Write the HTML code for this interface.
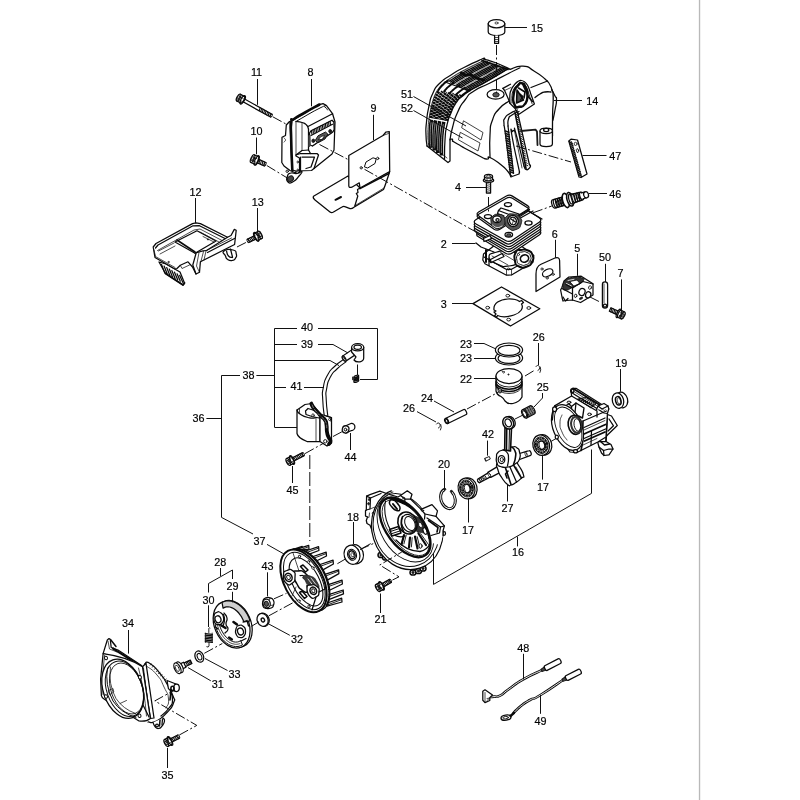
<!DOCTYPE html>
<html><head><meta charset="utf-8">
<style>
html,body{margin:0;padding:0;background:#fff;}
body{width:800px;height:800px;overflow:hidden;}
svg{display:block;}
text{font-family:"Liberation Sans",sans-serif;font-size:11.4px;fill:#000;stroke:#000;stroke-width:0.2;text-anchor:middle;}
.l{stroke:#111;stroke-width:1;fill:none;}
.d{stroke:#111;stroke-width:1;fill:none;stroke-dasharray:10 2.5 2 2.5;}
.p{stroke:#0a0a0a;stroke-width:1.25;fill:#fff;stroke-linejoin:round;stroke-linecap:round;}
.n{stroke:#0a0a0a;stroke-width:1.25;fill:none;stroke-linejoin:round;stroke-linecap:round;}
.t{stroke:#111;stroke-width:0.75;fill:none;stroke-linejoin:round;stroke-linecap:round;}
.w{stroke:#fff;stroke-width:0.8;fill:none;stroke-linecap:round;}
.k{stroke:#1a1a1a;stroke-width:1;fill:#1a1a1a;stroke-linejoin:round;}
.g{stroke:#1a1a1a;stroke-width:1;fill:#8a8a8a;stroke-linejoin:round;}
.h{stroke:#1a1a1a;stroke-width:1.8;fill:none;stroke-linejoin:round;stroke-linecap:round;}
</style></head><body>
<svg width="800" height="800" viewBox="0 0 800 800">
<rect width="800" height="800" fill="#fff"/>
<rect x="698.85" y="0" width="1.35" height="800" fill="#b9b9b9"/>
<!-- parts/p_case.svg -->
<g id="case">
<path class="p" d="M388 494 L379.8 491.2 L370 494.6 L366.6 496.1 L366.3 510 L365.5 510.8 L365.5 516 L367.5 517 L366.3 520.5 L367 523.5 L370 525.2 L375 538 L390 530Z" />
<path class="n" d="M366.6 496.1 L370.5 498 L381 493.5" />
<path class="n" d="M370.5 498 L370 509 L366.3 510" />
<path class="t" d="M370 509 L380 505" />
<ellipse class="k" cx="369.3" cy="499.6" rx="0.9" ry="1.1" />
<ellipse class="k" cx="368.6" cy="503.7" rx="0.9" ry="1.1" />
<ellipse class="n" cx="373.4" cy="513.4" rx="1.1" ry="1.4" style="stroke-width:.9"/>
<path class="t" d="M365.5 516 L369 517.5 L369.5 513" />
<ellipse class="p" cx="381" cy="555" rx="3" ry="2.6" style="stroke-width:1.5"/>
<ellipse class="k" cx="381" cy="555" rx="1.1" ry="1" />
<ellipse class="p" cx="385.5" cy="557.5" rx="3" ry="2.6" style="stroke-width:1.5"/>
<ellipse class="k" cx="385.5" cy="557.5" rx="1.1" ry="1" />
<ellipse class="p" cx="413" cy="572.5" rx="3" ry="2.6" style="stroke-width:1.5"/>
<ellipse class="k" cx="413" cy="572.5" rx="1.1" ry="1" />
<ellipse class="p" cx="418.5" cy="571" rx="3" ry="2.6" style="stroke-width:1.5"/>
<ellipse class="k" cx="418.5" cy="571" rx="1.1" ry="1" />
<ellipse class="p" cx="423" cy="568.5" rx="3" ry="2.6" style="stroke-width:1.5"/>
<ellipse class="k" cx="423" cy="568.5" rx="1.1" ry="1" />
<ellipse class="p" cx="434" cy="546.5" rx="1.6" ry="2" />
<ellipse class="p" cx="440.5" cy="536.5" rx="2" ry="2.3" />
<ellipse class="p" cx="444" cy="533.5" rx="1.5" ry="1.8" />
<clipPath id="cc0"><path d="M387 487 L447 531 L470 610 L340 610 L340 470Z"/></clipPath>
<g clip-path="url(#cc0)">
<ellipse class="p" cx="407.2" cy="528.8" rx="35.1" ry="41.3" transform="rotate(-17.6 407.2 528.8)" />
<ellipse class="n" cx="406.2" cy="528.3" rx="32.3" ry="38.8" transform="rotate(-19 406.2 528.3)" style="stroke-width:1"/>
</g>
<ellipse class="n" cx="405.4" cy="527.8" rx="24.5" ry="37" transform="rotate(-31 405.4 527.8)" style="stroke-width:.9"/>
<path class="p" d="M398 497 L400.5 495.5 L407.3 490.8 L412 494.2 L410.5 499 L421 509.4 L432 504.6 L437.5 510.8 L436 516.3 L444.4 525.9 L443 531 L443 535.5 L440 545 L420 540 L400 510 L386.6 493.6Z" style="stroke:none"/>
<path class="n" d="M386.6 493.6 L398 497 L400.5 495.5 L407.3 490.8 L412 494.2 L410.5 499 L421 509.4 L432 504.6 L437.5 510.8 L436 516.3 L444.4 525.9 L443 531 L443 535.5" />
<path class="n" d="M400.5 495.5 L405 499 L410.5 499" />
<path class="n" d="M405 499 L404.5 503" />
<ellipse class="t" cx="403.5" cy="498" rx="1.1" ry="0.8" />
<path class="n" d="M421 509.4 L425 514 L436 516.3" />
<path class="n" d="M425 514 L424.5 519" />
<ellipse class="t" cx="422.5" cy="510.5" rx="1.2" ry="0.9" />
<path class="n" d="M427 518 L440.5 527 L444.4 525.9" />
<path class="n" d="M440.5 527 L439.5 533 L431 535.5" />
<path class="n" d="M428.5 520.5 L438 527.5 L437 532" style="stroke-width:1.6"/>
<clipPath id="cc1"><ellipse cx="405" cy="527.4" rx="18.6" ry="34.5" transform="rotate(-36.7 405 527.4)"/></clipPath>
<g clip-path="url(#cc1)">
<ellipse class="p" cx="405" cy="527.4" rx="18.6" ry="34.5" transform="rotate(-36.7 405 527.4)" style="stroke:none;fill:#fff"/>
<path class="n" d="M392 498.5 Q410 503 421 516 Q428 525 430 538" style="stroke-width:3.4;stroke-dasharray:1.3 0.9"/>
<path class="k" d="M413 515 L422 519 L426 527 L424 533 L417 532 L414 525Z" style="fill:#333;stroke-width:.6"/>
<ellipse class="p" cx="420.5" cy="525" rx="1.8" ry="2.6" transform="rotate(-20 420.5 525)" style="stroke-width:.8"/>
<ellipse class="p" cx="425" cy="531" rx="1.8" ry="3.4" transform="rotate(-20 425 531)" style="stroke-width:1.2"/>
<line class="n" x1="404" y1="535" x2="401.5" y2="544.5" style="stroke-width:2.2"/>
<line class="n" x1="406.2" y1="535.2" x2="403.9" y2="543.9" style="stroke-width:.9"/>
<line class="n" x1="410" y1="537.5" x2="409" y2="547.5" style="stroke-width:2.2"/>
<line class="n" x1="412.2" y1="537.7" x2="411.4" y2="546.9" style="stroke-width:.9"/>
<line class="n" x1="415" y1="536.5" x2="417.5" y2="548.5" style="stroke-width:2.2"/>
<line class="n" x1="417.2" y1="536.7" x2="419.9" y2="547.9" style="stroke-width:.9"/>
<line class="n" x1="418.5" y1="533.5" x2="426" y2="545" style="stroke-width:2.2"/>
<line class="n" x1="420.7" y1="533.7" x2="428.4" y2="544.4" style="stroke-width:.9"/>
<path class="n" d="M396 540 Q406 551 420 551.5 Q427 550 430 544" style="stroke-width:1.3"/>
<path class="n" d="M394 535 Q400 538 405 536" style="stroke-width:1.3"/>
<ellipse class="p" cx="420.5" cy="546" rx="1.6" ry="2.2" style="stroke-width:1"/>
<path class="p" d="M389.5 529.5 L398.5 526.5 L401 533 L392 536Z" style="stroke-width:1.5"/>
<line class="n" x1="390.5" y1="531.5" x2="399.5" y2="528.5" style="stroke-width:1"/>
<line class="n" x1="391.3" y1="533.8" x2="400.3" y2="530.8" style="stroke-width:1"/>
<path class="n" d="M385.5 501 Q382.5 516 391 531" style="stroke-width:1.1"/>
<path class="p" d="M389.5 502 C390 499.8 390.3 499.5 393 500 C395.7 500.5 395.2 500.7 397.5 503.5 C399.8 506.3 400.3 506.2 400 508.5 C399.7 510.8 399.3 511.2 396.5 510.5 C393.7 509.8 393.8 509.3 391.5 506.5 C389.2 503.7 389 504.2 389.5 502Z" style="stroke-width:1.5"/>
<path class="n" d="M393 504 L397 509" style="stroke-width:2"/>
</g>
<ellipse class="n" cx="405" cy="527.4" rx="18.6" ry="34.5" transform="rotate(-36.7 405 527.4)" style="stroke-width:2.3"/>
<ellipse class="n" cx="405.8" cy="527.6" rx="16.8" ry="32.6" transform="rotate(-36.7 405.8 527.6)" style="stroke-width:.8"/>
<ellipse class="p" cx="407.5" cy="523" rx="9.3" ry="11.3" transform="rotate(-25 407.5 523)" style="stroke-width:1.6"/>
<ellipse class="p" cx="408.8" cy="523.3" rx="6.9" ry="9.2" transform="rotate(-25 408.8 523.3)" style="stroke-width:1.2"/>
<ellipse class="n" cx="410" cy="523.5" rx="4.8" ry="7.4" transform="rotate(-25 410 523.5)" style="stroke-width:1"/>
<path class="n" d="M402.5 516.5 Q399.5 523.5 403.5 531.5" style="stroke-width:1.6"/>
<path class="p" d="M597.5 441.5 L599 447 L601.5 453 L604 455.5 L609 454.8 L613 449 L611 444.5 L606 441.5Z" />
<path class="n" d="M599 447 L603.5 450.5 L609 449 L613 449" />
<path class="n" d="M603.5 450.5 L604 455.5" />
<path class="n" d="M600 441 L604.5 445 L609.5 444" style="stroke-width:1.5"/>
<path class="p" d="M607.5 414.5 L611.5 416 L617.3 425.5 L608.5 434 L606 436.5Z" />
<path class="n" d="M609 419 L613.5 425.8 L608 431" />
<path class="n" d="M606.8 418 L606 441" style="stroke-width:1.8"/>
<path class="p" d="M555 405.6 L571.6 396 L571 390.5 L573 388.3 L576 388.3 L608.8 409 L607.4 413.5 L606 437 L597.8 442 L577 452.5 L570 452 L556 432Z" />
<path class="n" d="M571 390.5 L573 393.5 L604 413 L607.4 413.5" />
<path class="n" d="M573 388.5 L605.5 408.5" style="stroke-width:2"/>
<path class="t" d="M574 391.5 L604.5 410.5" />
<path class="p" d="M596.5 409.5 L598 406 L604 403.5 L608 406 L608.8 409" />
<path class="n" d="M598 406 L602 409 L608 406" />
<ellipse class="n" cx="572.3" cy="390.8" rx="1.6" ry="2.2" />
<path class="n" d="M571.6 396 L585 404 L597 411 L597 417" />
<path class="n" d="M555 405.6 L559 408.5 L569 404 L571.5 406.5" />
<ellipse class="n" cx="569" cy="402.3" rx="1.9" ry="1.2" style="stroke-width:1"/>
<ellipse class="n" cx="589.5" cy="414.3" rx="1.9" ry="1.2" style="stroke-width:1"/>
<path class="n" d="M578 399 L586 397.5 L596 404 L591 407.5Z" style="stroke-width:1"/>
<line class="n" x1="579.5" y1="399.6" x2="582" y2="398.2" style="stroke-width:1.1"/>
<line class="n" x1="581.4" y1="400.7" x2="583.9" y2="399.2" style="stroke-width:1.1"/>
<line class="n" x1="583.3" y1="401.7" x2="585.8" y2="400.3" style="stroke-width:1.1"/>
<line class="n" x1="585.2" y1="402.8" x2="587.7" y2="401.3" style="stroke-width:1.1"/>
<line class="n" x1="587.1" y1="403.8" x2="589.6" y2="402.4" style="stroke-width:1.1"/>
<line class="n" x1="589" y1="404.9" x2="591.5" y2="403.4" style="stroke-width:1.1"/>
<line class="n" x1="590.9" y1="405.9" x2="593.4" y2="404.5" style="stroke-width:1.1"/>
<path class="p" d="M571.5 406.5 L576 403 L584 408 L582.5 418 L578.5 416 L571.5 412Z" style="stroke-width:1.4"/>
<path class="n" d="M576 403 L575 412.5" />
<path class="n" d="M583 421 L597 415 L606.5 411" />
<path class="n" d="M583 421 L582.5 443 L581 450.5" style="stroke-width:1.6"/>
<path class="n" d="M584 427.5 L605 418" />
<path class="t" d="M584 430 L605 420.5" />
<path class="n" d="M584 434 L605.5 424.5" style="stroke-width:1.7"/>
<path class="n" d="M584 438.5 L605.5 429" />
<path class="n" d="M584.5 441 L605 432" style="stroke-width:1.8"/>
<path class="n" d="M591.5 431 L591 445" />
<path class="t" d="M582 445.5 L597 438.5" />
<ellipse class="p" cx="567.5" cy="427.5" rx="14.3" ry="24" transform="rotate(-22 567.5 427.5)" />
<ellipse class="n" cx="568.2" cy="427.2" rx="11.6" ry="21.5" transform="rotate(-24 568.2 427.2)" style="stroke-width:.9"/>
<path class="n" d="M555 405.6 L553.5 409 L552.4 420" />
<ellipse class="p" cx="554.6" cy="409.3" rx="2" ry="2.4" />
<ellipse class="p" cx="556.8" cy="437" rx="1.6" ry="2" />
<ellipse class="p" cx="575.5" cy="451.2" rx="2" ry="1.7" />
<ellipse class="p" cx="575" cy="424.8" rx="6.8" ry="9.6" transform="rotate(-10 575 424.8)" style="stroke-width:1.6"/>
<ellipse class="n" cx="576.2" cy="424.8" rx="5" ry="8" transform="rotate(-10 576.2 424.8)" style="stroke-width:2;stroke:#333"/>
<ellipse class="n" cx="577.3" cy="424.9" rx="3.2" ry="6.3" transform="rotate(-10 577.3 424.9)" style="stroke-width:.9"/>
<path class="t" d="M562 415 C561.3 417.7 560 417.3 560 423 C560 428.7 559.7 426.3 562 432 C564.3 437.7 565.3 437.3 567 440" />
<ellipse class="p" cx="621.6" cy="400" rx="6" ry="8" transform="rotate(-15 621.6 400)" />
<ellipse class="p" cx="618" cy="400.6" rx="5.6" ry="7.8" transform="rotate(-15 618 400.6)" />
<ellipse class="p" cx="618.3" cy="400.8" rx="2.7" ry="4.3" transform="rotate(-15 618.3 400.8)" style="stroke-width:1.4"/>
<ellipse class="t" cx="618.9" cy="400.8" rx="1.7" ry="3.2" transform="rotate(-15 618.9 400.8)" />
<g transform="translate(379.5 587) rotate(-29)">
<path class="p" d="M2 -1.8 L12.5 -1.8 L12.5 1.8 L2 1.8 Z" />
<ellipse class="p" cx="12.5" cy="0" rx="0.8" ry="1.8" style="stroke-width:.9"/>
<line class="n" x1="3.2" y1="-1.8" x2="3.9" y2="1.8" style="stroke-width:1"/>
<line class="n" x1="4.9" y1="-1.8" x2="5.6" y2="1.8" style="stroke-width:1"/>
<line class="n" x1="6.6" y1="-1.8" x2="7.3" y2="1.8" style="stroke-width:1"/>
<line class="n" x1="8.3" y1="-1.8" x2="9" y2="1.8" style="stroke-width:1"/>
<line class="n" x1="10" y1="-1.8" x2="10.7" y2="1.8" style="stroke-width:1"/>
<line class="n" x1="11.7" y1="-1.8" x2="12.4" y2="1.8" style="stroke-width:1"/>
<ellipse class="p" cx="2.3" cy="0" rx="1.7" ry="4.8" />
<path class="p" d="M-2 -3.9 L2 -3.9 L2 3.9 L-2 3.9 Z" style="stroke:none"/>
<line class="n" x1="-2" y1="-3.9" x2="2" y2="-3.9" />
<line class="n" x1="-2" y1="3.9" x2="2" y2="3.9" />
<ellipse class="n" cx="2" cy="0" rx="1.5" ry="3.9" />
<ellipse class="p" cx="-2" cy="0" rx="1.6" ry="3.9" />
<ellipse class="t" cx="-2.2" cy="0" rx="0.9" ry="2.1" />
<line class="t" x1="-2" y1="-1.6" x2="2" y2="-1.6" />
<line class="t" x1="-2" y1="1.8" x2="2" y2="1.8" />
</g>
</g>
<!-- parts/p_coil.svg -->
<g id="coil">
<path class="n" d="M326.3 418 C325.7 412 324.9 410 324.5 400 C324.1 390 323.5 396 325 388 C326.5 380 325.3 382.8 329 376 C332.7 369.2 330.7 372.7 336 367.5 C341.3 362.3 342 362.8 345 360.5" style="stroke-width:4.6;stroke-linecap:butt"/>
<path class="w" d="M326.3 418 C325.7 412 324.9 410 324.5 400 C324.1 390 323.5 396 325 388 C326.5 380 325.3 382.8 329 376 C332.7 369.2 330.7 372.7 336 367.5 C341.3 362.3 342 362.8 345 360.5" style="stroke-width:2.4;stroke-linecap:butt"/>
<path class="p" d="M297 410 L297 433.5 Q298 438 307 441.5 L320 441.5 L320 414 L312 403.5 L305 404.5 Z" />
<path class="n" d="M297 410 C298 411.3 296.3 411.5 300 414 C303.7 416.5 302.7 416.3 308 417.5 C313.3 418.7 312 418.7 316 417.5 C320 416.3 318.7 415.2 320 414" />
<path class="t" d="M299.5 408.5 L299.5 412.5" />
<path class="t" d="M316 418 L316 441" />
<path class="p" d="M320 414 L331.5 417.5 L331.5 443 L327 446 L320 441.5Z" />
<path class="n" d="M326 416 L331 417.5 L331 421" />
<ellipse class="p" cx="329.7" cy="419.5" rx="1.1" ry="1.1" style="stroke-width:.8"/>
<path class="p" d="M305.5 411 L308 408.5 L316 411 L321 416.5 L319 418 L312 416.5 L306 414.5Z" />
<ellipse class="p" cx="313" cy="415.3" rx="1.2" ry="1.5" style="stroke-width:.8"/>
<path class="n" d="M311.3 403.6 C312 405.1 311.4 405.2 313.5 408 C315.6 410.8 315 409.3 317.5 412 C320 414.7 318.5 413.3 321 416 C323.5 418.7 323.2 417 325 420 C326.8 423 325.8 421 326.5 425 C327.2 429 326.3 428 327 432 C327.7 436 327.3 434 328.5 437 C329.7 440 330.3 438.7 330.5 441 C330.7 443.3 329.5 443 329 444" style="stroke-width:3.8"/>
<path class="w" d="M312.2 405 C313.1 406.7 312.1 406.2 315 410 C317.9 413.8 317.5 412.7 321 416.5 C324.5 420.3 323.6 417.7 325.5 421.5 C327.4 425.3 326.4 425.8 326.8 428" style="stroke-width:.45;stroke-dasharray:3 2"/>
<ellipse class="p" cx="325.3" cy="441.3" rx="1.7" ry="1.7" style="stroke-width:.9"/>
<g transform="translate(349.5 355) rotate(-34)">
<path class="p" d="M-6.5 -3 L6 -3 L6 3 L-6.5 3Z" />
<ellipse class="p" cx="-6.5" cy="0" rx="1.3" ry="3" />
<ellipse class="t" cx="-6.8" cy="0" rx="0.9" ry="1.9" />
</g>
<path class="p" d="M351.6 347.5 L351.6 352 L356 357 L354 360 Q356 362.5 360 361.8 Q363.7 361 363.7 358 L363.7 347.5Z" />
<ellipse class="p" cx="357.7" cy="347.3" rx="6.1" ry="3.6" />
<ellipse class="p" cx="357.7" cy="347.2" rx="3.7" ry="2.1" />
<ellipse class="n" cx="356.3" cy="376.6" rx="2.6" ry="1.1" transform="rotate(-20 356.3 376.6)" style="stroke-width:1.1"/>
<ellipse class="n" cx="356.3" cy="378.1" rx="2.6" ry="1.1" transform="rotate(-20 356.3 378.1)" style="stroke-width:1.1"/>
<ellipse class="n" cx="356.3" cy="379.6" rx="2.6" ry="1.1" transform="rotate(-20 356.3 379.6)" style="stroke-width:1.1"/>
<ellipse class="n" cx="356.3" cy="381.1" rx="2.6" ry="1.1" transform="rotate(-20 356.3 381.1)" style="stroke-width:1.1"/>
<line class="n" x1="352.8" y1="377" x2="352.8" y2="379.5" />
<path class="p" d="M345.8 425.8 L351.5 423.3 A3.4 3.6 0 0 1 351.5 430.5 L345.8 433Z" />
<ellipse class="p" cx="345.6" cy="429.4" rx="3.3" ry="3.6" transform="rotate(15 345.6 429.4)" />
<ellipse class="p" cx="345.5" cy="429.6" rx="1.3" ry="1.5" transform="rotate(15 345.5 429.6)" style="stroke-width:.9"/>
<g transform="translate(290 461) rotate(-27)">
<path class="p" d="M2 -1.7 L15 -1.7 L15 1.7 L2 1.7 Z" />
<ellipse class="p" cx="15" cy="0" rx="0.8" ry="1.7" style="stroke-width:.9"/>
<line class="n" x1="3.2" y1="-1.7" x2="3.9" y2="1.7" style="stroke-width:1"/>
<line class="n" x1="4.9" y1="-1.7" x2="5.6" y2="1.7" style="stroke-width:1"/>
<line class="n" x1="6.6" y1="-1.7" x2="7.3" y2="1.7" style="stroke-width:1"/>
<line class="n" x1="8.3" y1="-1.7" x2="9" y2="1.7" style="stroke-width:1"/>
<line class="n" x1="10" y1="-1.7" x2="10.7" y2="1.7" style="stroke-width:1"/>
<line class="n" x1="11.7" y1="-1.7" x2="12.4" y2="1.7" style="stroke-width:1"/>
<line class="n" x1="13.4" y1="-1.7" x2="14.1" y2="1.7" style="stroke-width:1"/>
<ellipse class="p" cx="2.3" cy="0" rx="1.7" ry="4.7" />
<path class="p" d="M-2 -3.8 L2 -3.8 L2 3.8 L-2 3.8 Z" style="stroke:none"/>
<line class="n" x1="-2" y1="-3.8" x2="2" y2="-3.8" />
<line class="n" x1="-2" y1="3.8" x2="2" y2="3.8" />
<ellipse class="n" cx="2" cy="0" rx="1.5" ry="3.8" />
<ellipse class="p" cx="-2" cy="0" rx="1.6" ry="3.8" />
<ellipse class="t" cx="-2.2" cy="0" rx="0.9" ry="2.1" />
<line class="t" x1="-2" y1="-1.5" x2="2" y2="-1.5" />
<line class="t" x1="-2" y1="1.7" x2="2" y2="1.7" />
</g>
</g>
<!-- parts/p_cover.svg -->
<g id="cover">
<path class="p" d="M427 146 L426 135 L426.5 122 L429 106 L433 93 L440 83 L451 75 L464 67.5 L481 59.5 L484 59.2 L495 62.5 L510 69.2 L523 66.2 L534 71 L545 79 L550 85 L552 90 L555 96 L556.5 100 L554 115 L552.5 130 L552.5 144 L546 147 L540 145 L537.5 145 L537 131 L521 132 L530 166 L526 170 L519 174 L511 177 L507.5 171 L500 164 L490 157.5 L485 158.8 L470 151 L457.5 144 L452.5 141 L452.5 139 L450 139 L450 161 L448 162.5Z" style="stroke:none"/>
<path class="n" d="M430.8 147.9 L430.7 146.7 L430.6 145.2 L430.5 143.5 L430.4 141.7 L430.3 139.9 L430.2 138.1 L430.2 136.4 L430.2 134.8 L430.2 133.2 L430.3 131.6 L430.4 130 L430.5 128.3 L430.6 126.7 L430.7 125 L430.9 123.3 L431.2 121.5 L431.4 119.7" style="stroke-width:3.5;stroke-linecap:butt"/>
<path class="n" d="M434.3 150.4 L434.3 149 L434.2 147.3 L434.1 145.4 L434 143.3 L434 141.3 L434 139.3 L434 137.4 L434 135.7 L434.1 134 L434.2 132.3 L434.3 130.6 L434.4 129 L434.6 127.3 L434.8 125.6 L435 123.9 L435.3 122.2 L435.6 120.4" style="stroke-width:3.5;stroke-linecap:butt"/>
<path class="n" d="M437.8 152.9 L437.8 151.3 L437.8 149.3 L437.7 147.2 L437.7 145 L437.7 142.7 L437.7 140.5 L437.8 138.5 L437.9 136.6 L438 134.8 L438.1 133.1 L438.2 131.3 L438.4 129.6 L438.6 127.9 L438.8 126.2 L439.1 124.5 L439.4 122.8 L439.7 121.1" style="stroke-width:3.5;stroke-linecap:butt"/>
<path class="n" d="M441.4 155.4 L441.4 153.6 L441.4 151.4 L441.4 149.1 L441.4 146.6 L441.4 144.1 L441.5 141.7 L441.6 139.5 L441.7 137.5 L441.8 135.6 L442 133.8 L442.2 132 L442.4 130.2 L442.6 128.5 L442.9 126.8 L443.2 125.1 L443.5 123.4 L443.9 121.8" style="stroke-width:3.5;stroke-linecap:butt"/>
<path class="w" d="M430.7 146 L430.5 144.4 L430.4 142.7 L430.3 140.9 L430.2 139.1 L430.2 137.4 L430.2 135.7 L430.2 134.1 L430.2 132.5 L430.3 130.9 L430.4 129.3 L430.5 127.7 L430.6 126.1 L430.8 124.4 L431 122.7" style="stroke-width:0.5"/>
<path class="w" d="M434.2 148.2 L434.1 146.4 L434.1 144.4 L434 142.4 L434 140.4 L434 138.5 L434 136.7 L434 135 L434.1 133.3 L434.2 131.6 L434.3 130 L434.5 128.3 L434.7 126.6 L434.9 125 L435.1 123.3" style="stroke-width:0.5"/>
<path class="w" d="M437.8 150.4 L437.7 148.4 L437.7 146.2 L437.7 143.9 L437.7 141.7 L437.7 139.6 L437.8 137.7 L437.9 135.9 L438 134.1 L438.1 132.3 L438.3 130.6 L438.5 128.9 L438.7 127.2 L438.9 125.5 L439.2 123.9" style="stroke-width:0.5"/>
<path class="w" d="M441.4 152.6 L441.4 150.3 L441.4 147.9 L441.4 145.4 L441.4 143 L441.5 140.7 L441.6 138.6 L441.7 136.7 L441.9 134.9 L442.1 133 L442.3 131.3 L442.5 129.5 L442.7 127.8 L443 126.1 L443.3 124.5" style="stroke-width:0.5"/>
<path class="n" d="M430.6 118 L430.9 116.1 L431.3 114.1 L431.6 112.2 L432 110.4 L432.4 108.6 L432.8 106.9 L433.2 105.2 L433.7 103.6 L434.1 102 L434.6 100.5 L435.1 99 L435.6 97.6 L436.2 96.2 L436.8 94.8 L437.5 93.5 L438.2 92.3 L439 91.1" style="stroke-width:3.1;stroke-linecap:butt;stroke-dasharray:2.3 0.55;stroke-dashoffset:0"/>
<path class="n" d="M433.3 118.5 L433.7 116.6 L434 114.8 L434.4 113 L434.8 111.2 L435.3 109.4 L435.7 107.8 L436.1 106.2 L436.6 104.6 L437 103.1 L437.5 101.6 L438.1 100.2 L438.6 98.8 L439.2 97.4 L439.8 96.1 L440.5 94.9 L441.2 93.7 L441.9 92.6 L442.7 91.5" style="stroke-width:3.1;stroke-linecap:butt;stroke-dasharray:2.3 0.55;stroke-dashoffset:1.2"/>
<path class="n" d="M436.1 119 L436.4 117.2 L436.8 115.4 L437.2 113.7 L437.7 112 L438.1 110.3 L438.5 108.7 L439 107.2 L439.5 105.6 L440 104.2 L440.5 102.7 L441 101.3 L441.6 100 L442.2 98.7 L442.8 97.4 L443.5 96.2 L444.2 95.1 L444.9 94.1 L445.6 93 L446.4 92" style="stroke-width:3.1;stroke-linecap:butt;stroke-dasharray:2.3 0.55;stroke-dashoffset:0"/>
<path class="n" d="M438.8 119.4 L439.2 117.7 L439.6 116.1 L440 114.4 L440.5 112.8 L440.9 111.2 L441.4 109.6 L441.9 108.1 L442.4 106.7 L442.9 105.2 L443.4 103.8 L444 102.5 L444.6 101.2 L445.2 99.9 L445.8 98.7 L446.5 97.6 L447.2 96.5 L447.8 95.5 L448.6 94.6 L449.3 93.6 L450.1 92.7" style="stroke-width:3.1;stroke-linecap:butt;stroke-dasharray:2.3 0.55;stroke-dashoffset:1.2"/>
<path class="n" d="M441.5 119.9 L441.9 118.3 L442.4 116.7 L442.8 115.1 L443.3 113.5 L443.8 112 L444.3 110.6 L444.8 109.1 L445.3 107.7 L445.8 106.3 L446.4 105 L446.9 103.6 L447.5 102.4 L448.2 101.2 L448.8 100 L449.5 98.9 L450.1 97.9 L450.8 97 L451.5 96.1 L452.3 95.2 L453.1 94.4 L453.9 93.5" style="stroke-width:3.1;stroke-linecap:butt;stroke-dasharray:2.3 0.55;stroke-dashoffset:0"/>
<path class="n" d="M444.2 120.4 L444.7 118.9 L445.1 117.3 L445.6 115.8 L446.1 114.3 L446.6 112.9 L447.1 111.5 L447.7 110.1 L448.2 108.7 L448.8 107.4 L449.3 106.1 L449.9 104.8 L450.5 103.6 L451.1 102.4 L451.8 101.3 L452.4 100.3 L453.1 99.3 L453.8 98.5 L454.5 97.6 L455.2 96.8 L456 96 L456.8 95.2 L457.7 94.4" style="stroke-width:3.1;stroke-linecap:butt;stroke-dasharray:2.3 0.55;stroke-dashoffset:1.2"/>
<path class="n" d="M446.6 120.9 L447 119.3 L447.5 117.9 L448 116.4 L448.5 115 L449 113.6 L449.6 112.3 L450.1 110.9 L450.7 109.6 L451.2 108.3 L451.8 107 L452.4 105.8 L453 104.6 L453.7 103.5 L454.3 102.4 L455 101.4 L455.6 100.5 L456.3 99.7 L457 98.9 L457.7 98.1 L458.4 97.4 L459.2 96.7 L460.1 95.9 L461 95.1" style="stroke-width:3.1;stroke-linecap:butt;stroke-dasharray:2.3 0.55;stroke-dashoffset:0"/>
<path class="n" d="M438.4 90.2 L439.2 89 L440 87.9 L440.9 86.8 L441.9 85.7 L443 84.7 L444.1 83.6 L445.3 82.6 L446.5 81.7 L447.8 80.7" style="stroke-width:1.9"/>
<path class="n" d="M444.1 91.3 L444.9 90.3 L445.8 89.3 L446.7 88.3 L447.7 87.4 L448.8 86.4 L449.9 85.5 L451 84.6 L452.2 83.8 L453.5 82.9" style="stroke-width:1.9"/>
<path class="n" d="M450.1 92.8 L450.9 91.9 L451.8 91.1 L452.7 90.2 L453.7 89.4 L454.7 88.5 L455.8 87.7 L456.9 86.9 L458.1 86.1 L459.3 85.3" style="stroke-width:1.9"/>
<path class="n" d="M456 94.6 L456.9 93.8 L457.7 93 L458.7 92.2 L459.6 91.5 L460.6 90.7 L461.6 90 L462.7 89.2 L463.8 88.5 L465 87.7" style="stroke-width:1.9"/>
<path class="n" d="M461.3 96.1 L462.3 95.3 L463.2 94.5 L464.2 93.7 L465.3 92.9 L466.4 92.2 L467.6 91.4 L468.8 90.5 L470.2 89.7" style="stroke-width:1.9"/>
<path class="n" d="M447.6 80.6 L449 79.7 L450.3 78.8 L451.7 77.9 L453.1 77 L454.5 76.1 L456 75.2 L457.4 74.3 L458.9 73.5 L460.5 72.6 L462 71.7 L463.7 70.8 L465.4 69.9 L467.3 68.9 L469.4 67.8 L471.8 66.7 L474.2 65.5 L476.7 64.3 L479 63.1 L481.1 62.1 L482.9 61.3 L484.2 60.6" style="stroke-width:0.5"/>
<path class="n" d="M449.1 81.3 L450.5 80.4 L451.9 79.5 L453.4 78.5 L454.8 77.6 L456.3 76.7 L457.8 75.8 L459.3 74.9 L460.9 74 L462.5 73.1 L464.3 72.1 L466 71.2 L467.9 70.2 L470.1 69 L472.5 67.8 L475.1 66.5 L477.8 65.2 L480.3 64 L482.6 62.9 L484.5 61.9 L485.9 61.2" style="stroke-width:1.35"/>
<path class="n" d="M450.6 82.1 L452 81.1 L453.4 80.2 L454.8 79.3 L456.2 78.4 L457.7 77.5 L459.2 76.6 L460.7 75.7 L462.3 74.8 L463.9 73.9 L465.6 73 L467.4 72 L469.4 71 L471.6 69.9 L474 68.6 L476.7 67.3 L479.3 65.9 L481.9 64.6 L484.2 63.5 L486.1 62.5 L487.6 61.8" style="stroke-width:1.35"/>
<path class="n" d="M452.1 82.8 L453.4 81.9 L454.8 81 L456.2 80.1 L457.7 79.2 L459.1 78.3 L460.6 77.4 L462.1 76.6 L463.7 75.7 L465.3 74.8 L467 73.9 L468.9 72.9 L470.8 71.9 L473 70.7 L475.5 69.4 L478.2 68 L480.9 66.6 L483.5 65.3 L485.8 64.1 L487.8 63.1 L489.2 62.4" style="stroke-width:1.35"/>
<path class="n" d="M453.6 83.6 L454.9 82.7 L456.3 81.8 L457.6 80.9 L459.1 80 L460.5 79.1 L462 78.3 L463.5 77.4 L465.1 76.5 L466.7 75.7 L468.4 74.7 L470.3 73.7 L472.2 72.7 L474.5 71.5 L477 70.2 L479.7 68.7 L482.5 67.3 L485.1 66 L487.4 64.8 L489.4 63.7 L490.9 63" style="stroke-width:1.35"/>
<path class="n" d="M455.1 84.3 L456.4 83.4 L457.7 82.6 L459.1 81.7 L460.5 80.8 L461.9 80 L463.4 79.1 L464.9 78.3 L466.5 77.4 L468.1 76.5 L469.8 75.6 L471.7 74.6 L473.7 73.5 L476 72.3 L478.6 70.9 L481.3 69.5 L484 68 L486.7 66.6 L489.1 65.4 L491.1 64.3 L492.5 63.6" style="stroke-width:0.5"/>
<path class="n" d="M456.6 85.1 L457.8 84.2 L459.1 83.4 L460.5 82.5 L461.9 81.6 L463.3 80.8 L464.8 80 L466.3 79.1 L467.9 78.3 L469.5 77.4 L471.2 76.5 L473.1 75.5 L475.1 74.4 L477.4 73.1 L480.1 71.7 L482.8 70.2 L485.6 68.7 L488.3 67.3 L490.7 66 L492.7 64.9 L494.2 64.1" style="stroke-width:1.35"/>
<path class="n" d="M458 85.8 L459.3 84.9 L460.7 84.1 L462.1 83.2 L463.6 82.3 L465.1 81.4 L466.6 80.5 L468.2 79.7 L469.9 78.8 L471.7 77.8 L473.6 76.8 L475.7 75.7 L478 74.4 L480.7 72.9 L483.7 71.3 L486.6 69.7 L489.5 68.2 L492.1 66.8 L494.2 65.6 L495.9 64.7" style="stroke-width:1.35"/>
<path class="n" d="M459.5 86.6 L460.8 85.7 L462.2 84.8 L463.6 84 L465 83.1 L466.5 82.2 L468 81.4 L469.6 80.5 L471.3 79.6 L473.1 78.7 L475 77.7 L477.1 76.5 L479.5 75.2 L482.3 73.7 L485.2 72.1 L488.2 70.4 L491.1 68.8 L493.7 67.4 L495.9 66.2 L497.5 65.3" style="stroke-width:1.35"/>
<path class="n" d="M461 87.3 L462.2 86.5 L463.6 85.6 L465 84.8 L466.4 83.9 L467.9 83.1 L469.4 82.2 L471 81.4 L472.7 80.5 L474.5 79.5 L476.5 78.5 L478.5 77.4 L481 76 L483.8 74.5 L486.8 72.8 L489.8 71.1 L492.7 69.5 L495.3 68 L497.5 66.8 L499.2 65.9" style="stroke-width:1.35"/>
<path class="n" d="M462.4 88.1 L463.7 87.3 L465 86.4 L466.4 85.6 L467.9 84.7 L469.3 83.9 L470.8 83.1 L472.4 82.3 L474.1 81.4 L476 80.4 L477.9 79.4 L480 78.2 L482.5 76.8 L485.3 75.2 L488.3 73.5 L491.4 71.8 L494.3 70.2 L497 68.7 L499.2 67.4 L500.8 66.5" style="stroke-width:0.5"/>
<path class="n" d="M463.9 88.9 L465.1 88.1 L466.5 87.2 L467.8 86.4 L469.3 85.6 L470.7 84.8 L472.2 83.9 L473.9 83.1 L475.6 82.2 L477.4 81.3 L479.3 80.2 L481.5 79 L484 77.6 L486.8 76 L489.9 74.2 L493 72.5 L495.9 70.8 L498.6 69.3 L500.8 68 L502.5 67.1" style="stroke-width:1.35"/>
<path class="n" d="M465.3 89.7 L466.6 88.8 L467.9 88 L469.3 87.2 L470.7 86.4 L472.1 85.6 L473.7 84.8 L475.3 84 L477 83.1 L478.8 82.1 L480.8 81 L482.9 79.8 L485.5 78.4 L488.4 76.7 L491.5 75 L494.6 73.2 L497.5 71.5 L500.2 69.9 L502.5 68.6 L504.1 67.6" style="stroke-width:1.35"/>
<path class="n" d="M466.8 90.4 L468.1 89.6 L469.5 88.7 L470.9 87.9 L472.4 87 L474 86.2 L475.6 85.4 L477.3 84.5 L479.2 83.5 L481.2 82.4 L483.4 81.2 L485.9 79.8 L488.9 78.1 L492.2 76.2 L495.5 74.2 L498.7 72.4 L501.6 70.7 L504 69.3 L505.8 68.2" style="stroke-width:1.35"/>
<path class="n" d="M468.2 91.2 L469.5 90.4 L470.9 89.5 L472.3 88.7 L473.8 87.9 L475.4 87.1 L477 86.2 L478.7 85.3 L480.6 84.4 L482.6 83.3 L484.8 82.1 L487.4 80.6 L490.5 78.8 L493.7 76.9 L497.1 74.9 L500.3 73 L503.2 71.3 L505.7 69.9 L507.5 68.8" style="stroke-width:1.35"/>
<path class="n" d="M461 73 L466 75.5 L471 74.5 L477 78.5 L484 80" style="stroke-width:2.6"/>
<path class="n" d="M482 60.5 L508 69.5" style="stroke-width:1.6"/>
<path class="n" d="M445 82 L470 91" style="stroke-width:1.2"/>
<path class="n" d="M428.8 147.3 L428.7 146.4 L428.6 145.3 L428.4 143.9 L428.3 142.3 L428.2 140.7 L428 139 L427.9 137.3 L427.9 135.7 L427.9 134.2 L427.9 132.6 L427.9 131 L428 129.4 L428.1 127.8 L428.2 126.2 L428.3 124.5 L428.5 122.7 L428.7 120.9 L429 119 L429.2 117.1 L429.6 115.1 L429.9 113.1 L430.3 111.1 L430.6 109.2 L431 107.4 L431.5 105.6 L431.9 103.9 L432.3 102.3 L432.8 100.7 L433.3 99.1 L433.8 97.6 L434.4 96.1 L435 94.7 L435.6 93.3 L436.3 92 L437.1 90.7 L437.9 89.5 L438.7 88.4 L439.6 87.2 L440.5 86.1 L441.5 85 L442.6 83.9 L443.8 82.9 L445 81.9 L446.3 80.9 L447.6 80 L449 79.1 L450.5 78.1 L451.9 77.2 L453.4 76.3 L454.8 75.3 L456.3 74.4 L457.9 73.5 L459.4 72.6 L461 71.7 L462.7 70.8 L464.5 69.9 L466.3 68.9 L468.5 67.8 L470.8 66.6 L473.3 65.4 L475.9 64.2 L478.3 63 L480.5 62 L482.3 61.1 L483.7 60.5" style="stroke-width:0.8"/>
<path class="n" d="M427 146 C426.7 142.3 426.2 143 426 135 C425.8 127 425.5 131.7 426.5 122 C427.5 112.3 426.8 115.7 429 106 C431.2 96.3 429.3 100.7 433 93 C436.7 85.3 434 89 440 83 C446 77 443 80.2 451 75 C459 69.8 454 72.7 464 67.5 C474 62.3 474.3 62.3 481 59.5 C487.7 56.7 483 59.3 484 59.2" />
<path class="n" d="M444.5 159 C444.7 152.7 444.2 151.3 445 140 C445.8 128.7 445 134 447 125 C449 116 448 120.3 451 113 C454 105.7 452.3 108.5 456 103 C459.7 97.5 457 100.8 462 96.5 C467 92.2 463.3 94.7 471 90 C478.7 85.3 472.7 89.5 485 82.5 C497.3 75.5 500.3 73.5 508 69" />
<path class="n" d="M450 140 C450.8 135.8 450 136.7 452.5 127.5 C455 118.3 453.3 121.7 457.5 112.5 C461.7 103.3 459.5 107.2 465 100 C470.5 92.8 465.7 96.7 474 91 C482.3 85.3 478.8 88.7 490 83 C501.2 77.3 497.5 79.1 507.5 74 C517.5 68.9 515.8 69.9 520 67.8" />
<path class="n" d="M427 146 L448 162.5 L450 161 L450 139 L452.5 139 L452.5 141" />
<path class="t" d="M428.5 143.5 L447 158" />
<path class="n" d="M452.5 141 C454.2 142 451.7 140.7 457.5 144 C463.3 147.3 460.8 146.1 470 151 C479.2 155.9 480 156.2 485 158.8" />
<path class="n" d="M485 158.8 C486 158.8 486.3 159.4 488 159 C489.7 158.6 486 155.8 490 157.5 C494 159.2 494.2 159.5 500 164 C505.8 168.5 503.8 166.7 507.5 171 C511.2 175.3 509.8 175 511 177" />
<path class="n" d="M484 59.2 C487.7 60.3 486.3 59.2 495 62.5 C503.7 65.8 505 67 510 69.2" />
<path class="n" d="M510 69.4 C514.3 68.3 515 65.7 523 66.2 C531 66.7 526.7 66.7 534 71 C541.3 75.3 539.7 74.3 545 79 C550.3 83.7 547.7 81.3 550 85 C552.3 88.7 551.3 88.3 552 90" />
<path class="n" d="M552 90 C553 92 553.5 92.7 555 96 C556.5 99.3 556.5 95.3 556.5 100 C556.5 104.7 556.2 103.3 555 110 C553.8 116.7 553.7 116.7 553 120" />
<path class="n" d="M552 90 C552.4 92.3 553 88.7 553.2 97 C553.4 105.3 552.8 102 552.6 115 C552.4 128 552.5 129 552.5 136" style="stroke-width:1.3"/>
<path class="n" d="M531 87.5 L547.5 81" />
<path class="n" d="M535 97.5 C536.7 96.3 536.7 95.8 540 94 C543.3 92.2 541.3 92.7 545 92 C548.7 91.3 549 92 551 92" style="stroke-width:1.4"/>
<path class="n" d="M509 101 C505.7 103.7 504.5 102.7 499 109 C493.5 115.3 495.5 111.3 492.5 120 C489.5 128.7 490.8 122.5 490 135 C489.2 147.5 490 150 490 157.5" />
<path class="p" d="M509.9 103.3 C510 101.4 509.4 95.2 510.3 92 C511.2 88.8 513.2 85.9 515 84 C516.8 82.1 519.2 80.3 521.3 80.5 C523.4 80.7 525.8 82.7 527.4 85 C529 87.3 529.8 91.3 531 94.5 C532.2 97.7 533.8 102.4 534.4 104 L518.6 114.6 L515.1 108.5Z" />
<path class="n" d="M512 103 C512 101.3 511.6 95.9 512.3 93 C513 90.1 514.8 87.4 516.3 85.7 C517.8 84 519.8 82.4 521.5 82.6 C523.2 82.8 525 84.6 526.3 86.7 C527.6 88.8 528.2 92.2 529.2 95 C530.2 97.8 531.5 102.1 532 103.5" style="stroke-width:.9"/>
<path class="n" d="M502.9 88.4 L510.5 84.2" />
<path class="n" d="M502.9 88.4 L504.6 90.5 L509 100.6 L509.9 103.3" />
<path class="t" d="M504.6 90.5 L511 87.5" />
<path class="p" d="M514.7 105 C512.8 100.6 512.8 100 513.8 93.6 C514.8 87.2 515 89.2 517.8 85.8 C520.6 82.4 519.5 82.7 522.1 83.3 C524.7 83.9 523.8 83.2 525.6 87.5 C527.4 91.8 527.7 90.8 527.4 96.3 C527.1 101.8 527.4 100.6 524.8 104.1 C522.2 107.6 522.9 106.5 519.5 106.8 C516.1 107.1 516.6 109.4 514.7 105Z" style="stroke-width:2.4"/>
<path class="n" d="M517 90 L516.5 103 L523.5 100Z" style="stroke-width:1.5;fill:#555"/>
<path class="n" d="M518.5 88 L525 92 L524 98" style="stroke-width:1.6"/>
<path class="n" d="M520 94 L523 96.5 L520.5 100" style="stroke-width:1.2"/>
<path class="n" d="M522.5 84 L528.5 97 L532.5 101.5" style="stroke-width:1.5"/>
<ellipse class="p" cx="495.6" cy="94.4" rx="8.5" ry="4.8" />
<ellipse class="k" cx="496" cy="94.8" rx="3.2" ry="2.2" style="fill:#555"/>
<path class="n" d="M517.5 110 C515 111.2 514.2 110.8 510 113.5 C505.8 116.2 507 114.5 505 118 C503 121.5 503.8 118.3 504 124 C504.2 129.7 503.3 118 505.5 135 C507.7 152 508.8 161.7 510.5 175" />
<path class="n" d="M510.5 175 L512 176.5 L519 174 L519.5 172" />
<path class="n" d="M519 111.5 C516.7 112.7 515.5 112.5 512 115 C508.5 117.5 509.8 115.3 508.5 119 C507.2 122.7 508.2 123.7 508 126" />
<path class="n" d="M508 126 L513.5 173" />
<path class="n" d="M519.5 172 C517 160 514.3 149.5 512 136 C509.7 122.5 511.7 133.2 512.5 131.5 C513.3 129.8 513.3 130.2 514.5 131 C515.7 131.8 512.8 122.3 516 134 C519.2 145.7 521.3 155.3 524 166" />
<path class="t" d="M514.5 131 L522 168" />
<path class="n" d="M515 112.5 L526 168.5" style="stroke-width:1.6"/>
<path class="n" d="M517.5 112 L529.5 165" />
<path class="n" d="M524 166 C524.7 167.2 524.3 168.7 526 169.5 C527.7 170.3 527.5 169.7 529 168.5 C530.5 167.3 530.3 167.3 530.5 166 C530.7 164.7 529.8 165 529.5 164.5" />
<line class="t" x1="505.3" y1="131" x2="508.7" y2="132.3" style="stroke-width:1.6"/>
<line class="t" x1="505.6" y1="133.4" x2="509" y2="134.7" style="stroke-width:1.6"/>
<line class="t" x1="505.9" y1="135.8" x2="509.3" y2="137.1" style="stroke-width:1.6"/>
<line class="t" x1="506.1" y1="138.2" x2="509.5" y2="139.5" style="stroke-width:1.6"/>
<line class="t" x1="506.4" y1="140.6" x2="509.8" y2="141.9" style="stroke-width:1.6"/>
<line class="t" x1="506.7" y1="143" x2="510.1" y2="144.3" style="stroke-width:1.6"/>
<line class="t" x1="507" y1="145.4" x2="510.4" y2="146.7" style="stroke-width:1.6"/>
<line class="t" x1="507.2" y1="147.8" x2="510.6" y2="149.1" style="stroke-width:1.6"/>
<line class="t" x1="507.5" y1="150.2" x2="510.9" y2="151.5" style="stroke-width:1.6"/>
<line class="t" x1="507.8" y1="152.6" x2="511.2" y2="153.9" style="stroke-width:1.6"/>
<line class="t" x1="508.1" y1="155" x2="511.5" y2="156.3" style="stroke-width:1.6"/>
<line class="t" x1="508.3" y1="157.4" x2="511.7" y2="158.7" style="stroke-width:1.6"/>
<line class="t" x1="508.6" y1="159.8" x2="512" y2="161.1" style="stroke-width:1.6"/>
<line class="t" x1="508.9" y1="162.2" x2="512.3" y2="163.5" style="stroke-width:1.6"/>
<line class="t" x1="509.2" y1="164.6" x2="512.6" y2="165.9" style="stroke-width:1.6"/>
<line class="t" x1="509.4" y1="167" x2="512.8" y2="168.3" style="stroke-width:1.6"/>
<line class="t" x1="509.7" y1="169.4" x2="513.1" y2="170.7" style="stroke-width:1.6"/>
<line class="t" x1="510" y1="171.8" x2="513.4" y2="173.1" style="stroke-width:1.6"/>
<line class="t" x1="515.4" y1="114" x2="517.7" y2="115.4" style="stroke-width:1"/>
<line class="t" x1="515.9" y1="116.4" x2="518.2" y2="117.8" style="stroke-width:1"/>
<line class="t" x1="516.4" y1="118.8" x2="518.7" y2="120.2" style="stroke-width:1"/>
<line class="t" x1="516.8" y1="121.2" x2="519.1" y2="122.6" style="stroke-width:1"/>
<line class="t" x1="517.3" y1="123.6" x2="519.6" y2="125" style="stroke-width:1"/>
<line class="t" x1="517.8" y1="126" x2="520.1" y2="127.4" style="stroke-width:1"/>
<line class="t" x1="518.3" y1="128.4" x2="520.6" y2="129.8" style="stroke-width:1"/>
<line class="t" x1="518.8" y1="130.8" x2="521.1" y2="132.2" style="stroke-width:1"/>
<line class="t" x1="519.2" y1="133.2" x2="521.5" y2="134.6" style="stroke-width:1"/>
<line class="t" x1="519.7" y1="135.6" x2="522" y2="137" style="stroke-width:1"/>
<line class="t" x1="520.2" y1="138" x2="522.5" y2="139.4" style="stroke-width:1"/>
<line class="t" x1="520.7" y1="140.4" x2="523" y2="141.8" style="stroke-width:1"/>
<line class="t" x1="521.2" y1="142.8" x2="523.5" y2="144.2" style="stroke-width:1"/>
<line class="t" x1="521.6" y1="145.2" x2="523.9" y2="146.6" style="stroke-width:1"/>
<line class="t" x1="522.1" y1="147.6" x2="524.4" y2="149" style="stroke-width:1"/>
<line class="t" x1="522.6" y1="150" x2="524.9" y2="151.4" style="stroke-width:1"/>
<line class="t" x1="523.1" y1="152.4" x2="525.4" y2="153.8" style="stroke-width:1"/>
<line class="t" x1="523.6" y1="154.8" x2="525.9" y2="156.2" style="stroke-width:1"/>
<line class="t" x1="524" y1="157.2" x2="526.3" y2="158.6" style="stroke-width:1"/>
<line class="t" x1="524.5" y1="159.6" x2="526.8" y2="161" style="stroke-width:1"/>
<line class="t" x1="525" y1="162" x2="527.3" y2="163.4" style="stroke-width:1"/>
<line class="t" x1="525.5" y1="164.4" x2="527.8" y2="165.8" style="stroke-width:1"/>
<path class="h" d="M521 131 L535.5 129.6 L537 131.5 L537.5 145" />
<path class="p" d="M540 131 L540 144 A6.2 2.6 0 0 0 552.4 144 L552.4 131" />
<ellipse class="p" cx="546.2" cy="130.8" rx="6.2" ry="2.8" />
<ellipse class="p" cx="546.2" cy="130" rx="2.6" ry="1.6" />
<path class="t" d="M463.8 121 L483 132.5 L481 140 L462 128Z" style="stroke-width:0.8"/>
<path class="t" d="M460.6 132.5 L480 143 L478 151 L458.8 140Z" style="stroke-width:0.8"/>
<path class="p" d="M488.2 23.7 L488.2 32 A8.3 3.6 0 0 0 504.8 32 L504.8 23.7" />
<ellipse class="p" cx="496.5" cy="23.7" rx="8.3" ry="4.2" />
<ellipse class="t" cx="496.5" cy="23" rx="1.6" ry="1" />
<path class="p" d="M494.6 35.5 L494.6 43.3 L498.6 43.3 L498.6 35.5" />
<line class="t" x1="494.6" y1="37.5" x2="498.6" y2="37.5" />
<line class="t" x1="494.6" y1="39.5" x2="498.6" y2="39.5" />
<line class="t" x1="494.6" y1="41.5" x2="498.6" y2="41.5" />
<path class="p" d="M568.8 141 L571 139.2 L577.5 140 L587 174 L581 177.5 L579 177Z" />
<path class="t" d="M571.5 141.5 L581.5 176.5" />
<line class="t" x1="569.2" y1="141.5" x2="572.2" y2="143.6" style="stroke-width:1.4"/>
<line class="t" x1="569.9" y1="143.8" x2="572.9" y2="145.9" style="stroke-width:1.4"/>
<line class="t" x1="570.5" y1="146.2" x2="573.5" y2="148.3" style="stroke-width:1.4"/>
<line class="t" x1="571.2" y1="148.6" x2="574.2" y2="150.7" style="stroke-width:1.4"/>
<line class="t" x1="571.9" y1="150.9" x2="574.9" y2="153" style="stroke-width:1.4"/>
<line class="t" x1="572.5" y1="153.2" x2="575.5" y2="155.3" style="stroke-width:1.4"/>
<line class="t" x1="573.2" y1="155.6" x2="576.2" y2="157.7" style="stroke-width:1.4"/>
<line class="t" x1="573.9" y1="157.9" x2="576.9" y2="160" style="stroke-width:1.4"/>
<line class="t" x1="574.6" y1="160.3" x2="577.6" y2="162.4" style="stroke-width:1.4"/>
<line class="t" x1="575.2" y1="162.7" x2="578.2" y2="164.8" style="stroke-width:1.4"/>
<line class="t" x1="575.9" y1="165" x2="578.9" y2="167.1" style="stroke-width:1.4"/>
<line class="t" x1="576.6" y1="167.3" x2="579.6" y2="169.4" style="stroke-width:1.4"/>
<line class="t" x1="577.2" y1="169.7" x2="580.2" y2="171.8" style="stroke-width:1.4"/>
<line class="t" x1="577.9" y1="172.1" x2="580.9" y2="174.2" style="stroke-width:1.4"/>
<line class="t" x1="578.6" y1="174.4" x2="581.6" y2="176.5" style="stroke-width:1.4"/>
<ellipse class="p" cx="575.6" cy="143.9" rx="1.5" ry="1.6" style="stroke-width:0.8"/>
<ellipse class="p" cx="577.5" cy="150.6" rx="1.1" ry="2" transform="rotate(-15 577.5 150.6)" style="stroke-width:0.8"/>
</g>
<!-- parts/p_cyl.svg -->
<g id="cyl">
<path class="p" d="M483.5 254 L482.8 260 L485 263.8 L506.5 275.2 L511.5 275 L533 262.3 L533.8 255.5 L520 245 L495 245Z" />
<path class="n" d="M484 257 L506.5 269.5 L511.5 269.3 L533.5 257" />
<path class="t" d="M506.5 269.5 L506.5 275" />
<path class="t" d="M511.5 269.3 L511.5 275" />
<path class="n" d="M489 257 C489 253 490.7 254 497 252 C503.3 250 501 250 508 251 C515 252 514.3 251.7 518 255 C521.7 258.3 522 257.3 519 261 C516 264.7 516.3 265 509 266 C501.7 267 503.7 267 497 264 C490.3 261 489 261 489 257Z" />
<path class="t" d="M492 256 L508 265" />
<path class="t" d="M500 252 L515 261" />
<path class="n" d="M486 250 L486 262" style="stroke-width:2"/>
<ellipse class="t" cx="508.5" cy="269" rx="1.4" ry="1" />
<path class="n" d="M489 258 L489 265.5" />
<path class="p" d="M491 262.5 L490.5 259.5 L502 253.5 L504 256.5Z" />
<path class="n" d="M490.5 259.5 L489 261 L491 262.5" />
<path class="p" d="M516 252 C518 248.3 517 250.5 521 250 C525 249.5 524.2 248.8 528 250.5 C531.8 252.2 531.2 251.2 532.5 255 C533.8 258.8 533.8 258.2 532 262 C530.2 265.8 531.3 265 527 266.5 C522.7 268 523 268.3 519 266.5 C515 264.7 516 265.8 515 261 C514 256.2 514 255.7 516 252Z" style="stroke-width:2"/>
<path class="n" d="M518 254 C519.7 251.2 519 252.5 522 252 C525 251.5 524.2 251.2 527 252.5 C529.8 253.8 529.5 253.2 530.5 256 C531.5 258.8 531.3 258.2 530 261 C528.7 263.8 529.7 263.3 526.5 264.5 C523.3 265.7 523.7 265.8 520.5 264.5 C517.3 263.2 517.8 264 517 260.5 C516.2 257 516.3 256.8 518 254Z" style="stroke-width:1"/>
<ellipse class="p" cx="524.5" cy="258.5" rx="4.2" ry="3.6" transform="rotate(-25 524.5 258.5)" style="stroke-width:1.6"/>
<ellipse class="p" cx="518.5" cy="254.5" rx="1.1" ry="1.1" style="stroke-width:.7"/>
<ellipse class="p" cx="530" cy="262" rx="1.1" ry="1.1" style="stroke-width:.7"/>
<path class="p" d="M478.4 236.8 Q475 234.8 478.3 232.4 L505.7 213.1 Q509 210.8 512.3 212.9 L539.2 230.6 Q542.5 232.8 539.2 235 L512.3 253 Q509 255.2 505.6 253.2 Z" />
<path class="p" d="M477.9 234.2 Q474.5 232.2 477.8 229.9 L505.7 210.5 Q509 208.2 512.3 210.4 L539.2 228 Q542.5 230.2 539.2 232.4 L512.3 250.5 Q509 252.7 505.6 250.7 Z" />
<path class="p" d="M476 231.6 Q472.5 229.7 475.8 227.5 L505.7 207.8 Q509 205.7 512.3 207.8 L539.2 225.5 Q542.5 227.7 539.2 229.9 L512.3 247.9 Q509 250.2 505.5 248.2 Z" />
<path class="p" d="M476 229.1 Q472.5 227.1 475.8 224.9 L505.7 205.3 Q509 203.1 512.3 205.3 L539.2 222.9 Q542.5 225.1 539.2 227.3 L512.3 245.4 Q509 247.6 505.5 245.6 Z" />
<path class="p" d="M476 226.5 Q472.5 224.6 475.8 222.4 L505.7 202.7 Q509 200.6 512.3 202.7 L539.2 220.4 Q542.5 222.6 539.2 224.8 L512.3 242.8 Q509 245.1 505.5 243.1 Z" />
<path class="p" d="M476 224 Q472.5 222 475.8 219.8 L505.7 200.2 Q509 198 512.3 200.2 L539.2 217.8 Q542.5 220 539.2 222.2 L512.3 240.3 Q509 242.5 505.5 240.5 Z" />
<path class="p" d="M484 241.5 L483.5 238.5 L490 235.5 L491.5 238.5Z" />
<path class="n" d="M476 243 L481 247 L494 252" />
<path class="p" d="M478.5 215.8 Q475.6 213.8 478.6 212 L506.4 196 Q509.4 194.2 512.4 196.1 L527.5 205.6 Q530.5 207.5 527.6 209.4 L499.9 227.1 Q497 229 494.1 227 Z" />
<path class="n" d="M478.5 218 Q475.6 216 478.6 214.2 L506.4 198.2 Q509.4 196.4 512.4 198.3 L527.5 207.8 Q530.5 209.7 527.6 211.6 L499.9 229.3 Q497 231.2 494.1 229.2 Z" />
<path class="n" d="M529 211.5 L542 219" />
<path class="n" d="M518.5 216 L529.5 209.5" />
<path class="n" d="M519.5 218.5 L533 211" />
<path class="p" d="M498.5 210.5 L501 208 L519 214 L517 217.5Z" />
<path class="n" d="M498.5 210.5 L497.5 213.5 L504 216" />
<ellipse class="p" cx="508" cy="204.6" rx="3.6" ry="2.1" />
<ellipse class="p" cx="488" cy="216.6" rx="3.6" ry="2.1" />
<ellipse class="p" cx="528.5" cy="223" rx="3.6" ry="2.1" />
<ellipse class="p" cx="508.8" cy="234.8" rx="3.8" ry="2.4" />
<ellipse class="k" cx="508.8" cy="235.2" rx="2.2" ry="1.4" style="fill:#555"/>
<path class="k" d="M491 221 C490.7 217.3 490.3 218.2 493 216 C495.7 213.8 495.3 214.2 499 214.5 C502.7 214.8 502 214.2 504 217 C506 219.8 506.3 219.3 505 223 C503.7 226.7 503.7 226.7 500 228 C496.3 229.3 497 229.3 494 227 C491 224.7 491.3 224.7 491 221Z" style="fill:#555"/>
<ellipse class="p" cx="497" cy="219.3" rx="4.2" ry="3.4" />
<ellipse class="n" cx="497.5" cy="220" rx="1.6" ry="1.3" />
<path class="w" d="M492.5 225 C494 225.8 493.8 227.2 497 227.5 C500.2 227.8 500.3 226.5 502 226" />
<path class="k" d="M505 222 C504.3 217.8 504.3 218.7 507 216 C509.7 213.3 508.8 213.7 513 214 C517.2 214.3 516.8 213.7 519.5 217 C522.2 220.3 522.2 219.8 521 224 C519.8 228.2 520 228 516 229.5 C512 231 512.7 231 509 228.5 C505.3 226 505.7 226.2 505 222Z" style="fill:#555"/>
<ellipse class="p" cx="513" cy="221" rx="5.2" ry="5.6" transform="rotate(-20 513 221)" />
<ellipse class="n" cx="513" cy="221" rx="3.4" ry="3.8" transform="rotate(-20 513 221)" />
<path class="n" d="M511 219 L515.5 222" />
<path class="t" d="M512.5 223.5 L514 218.5" />
<path class="p" d="M486.4 181.1 L486.4 193.1 L490.6 193.1 L490.6 181.1 Z" />
<line class="t" x1="486.4" y1="191.6" x2="490.6" y2="192.4" />
<line class="t" x1="486.4" y1="189.6" x2="490.6" y2="190.4" />
<line class="t" x1="486.4" y1="187.6" x2="490.6" y2="188.4" />
<line class="t" x1="486.4" y1="185.6" x2="490.6" y2="186.4" />
<line class="t" x1="486.4" y1="183.6" x2="490.6" y2="184.4" />
<ellipse class="p" cx="488.5" cy="180.3" rx="5.2" ry="2" />
<path class="p" d="M484.5 176.1 L484.5 179.1 A4 1.8 0 0 0 492.5 179.1 L492.5 176.1" />
<ellipse class="p" cx="488.5" cy="176.2" rx="4" ry="1.9" />
<ellipse class="t" cx="488.5" cy="176.2" rx="2.2" ry="1" />
<line class="t" x1="487" y1="178" x2="487" y2="180.3" />
<line class="t" x1="490.3" y1="178" x2="490.3" y2="180.3" />
<g transform="translate(552.4 204.3) rotate(-15.8)">
<path class="p" d="M1.5 -4.3 L13 -4.3 L13 4.3 L1.5 4.3 A2 4.3 0 0 1 1.5 -4.3Z" />
<ellipse class="n" cx="3" cy="0" rx="1.6" ry="4.3" style="stroke-width:1.2"/>
<ellipse class="n" cx="5.2" cy="0" rx="1.6" ry="4.3" style="stroke-width:1.2"/>
<ellipse class="n" cx="7.4" cy="0" rx="1.6" ry="4.3" style="stroke-width:1.2"/>
<ellipse class="n" cx="9.6" cy="0" rx="1.6" ry="4.3" style="stroke-width:1.2"/>
<ellipse class="n" cx="11.6" cy="0" rx="1.6" ry="4.3" style="stroke-width:1.2"/>
<path class="p" d="M14 -7.2 L19 -7.2 L19 7.2 L14 7.2Z" style="stroke:none"/>
<ellipse class="p" cx="14" cy="0" rx="3.2" ry="7.3" style="stroke-width:1.6"/>
<ellipse class="p" cx="18.5" cy="0" rx="3.2" ry="7" style="stroke-width:1.5"/>
<ellipse class="n" cx="19.6" cy="0" rx="2.4" ry="5.2" />
<path class="p" d="M20 -4.7 L30 -4 L30 4 L20 4.7Z" />
<ellipse class="n" cx="22" cy="0" rx="1.4" ry="4.3" style="stroke-width:1.1"/>
<ellipse class="n" cx="24.2" cy="0" rx="1.4" ry="4.3" style="stroke-width:1.1"/>
<ellipse class="n" cx="26.4" cy="0" rx="1.4" ry="4.3" style="stroke-width:1.1"/>
<ellipse class="n" cx="28.4" cy="0" rx="1.4" ry="4.3" style="stroke-width:1.1"/>
<ellipse class="p" cx="30.5" cy="0" rx="1.9" ry="4" />
<path class="p" d="M31 -3 L35 -3 L35 3 L31 3Z" style="stroke:none"/>
<line class="n" x1="31" y1="-3" x2="35" y2="-3" />
<line class="n" x1="31" y1="3" x2="35" y2="3" />
<ellipse class="p" cx="35" cy="0" rx="2.4" ry="3.1" />
</g>
<path class="p" d="M473 303.6 L501.5 287 L539.8 308.7 L510.5 326Z" />
<path class="p" d="M494 310 C493 303 500 299.5 508 299 C513 298.8 517 299.8 519.5 301.5 L521.5 300.5 L523.5 302.5 L521.5 304 C524 308 520.5 313 514 315 C508 317 501 317 497.5 315.5 L496.8 317 L494.5 315.8 L496 314 L494 312 L496 311Z" />
<ellipse class="p" cx="507.8" cy="295.7" rx="1.9" ry="1.4" style="stroke-width:.9"/>
<ellipse class="p" cx="487.7" cy="307.7" rx="1.9" ry="1.4" style="stroke-width:.9"/>
<ellipse class="p" cx="528.8" cy="308" rx="1.9" ry="1.4" style="stroke-width:.9"/>
<ellipse class="p" cx="508.7" cy="319.6" rx="1.9" ry="1.4" style="stroke-width:.9"/>
<path class="p" d="M536 291.5 L536 274 C536 268 538 265.5 541 264.2 L555.5 257.8 C558 257 559.5 258 559.6 260.5 L560 277 Z" />
<ellipse class="p" cx="547.7" cy="272.8" rx="5.6" ry="3.4" transform="rotate(-28 547.7 272.8)" />
<ellipse class="p" cx="542" cy="269" rx="1.1" ry="1.1" style="stroke-width:.8"/>
<ellipse class="p" cx="553.2" cy="274.3" rx="1.1" ry="1.1" style="stroke-width:.8"/>
<ellipse class="p" cx="547.2" cy="278" rx="1.1" ry="1.1" style="stroke-width:.8"/>
<path class="p" d="M561.9 287.5 L564 281 L568.8 277 L581.2 276.2 L593 283.8 L593 295 L580.6 302.5 L572.5 300 L566 300.5 L563 301 L562.2 298 L560.6 290Z" />
<path class="k" d="M563 287 C562.7 284 562.8 284 565 281 C567.2 278 564.5 279.2 569.5 278 C574.5 276.8 575.5 276.5 580 277.5 C584.5 278.5 585.3 277.8 583 281 C580.7 284.2 578.7 284 573 287 C567.3 290 569.3 290 566 290 C562.7 290 563.3 290 563 287Z" style="fill:#333"/>
<path class="p" d="M570 281.5 L577 280 L580 283.5 L574 286Z" style="stroke-width:.8"/>
<path class="w" d="M566.5 283.5 L571.5 286" />
<path class="w" d="M568 280.5 L574 279.3" />
<path class="n" d="M572.5 288 L583 281.5 L593 284" />
<path class="n" d="M572.5 288 L572.5 300" />
<path class="n" d="M562 288.5 L572.5 294" />
<path class="n" d="M572.5 288 L566 284.5" />
<ellipse class="p" cx="582" cy="292" rx="3" ry="3.6" transform="rotate(20 582 292)" />
<ellipse class="p" cx="588.2" cy="294.8" rx="2.6" ry="3.1" transform="rotate(20 588.2 294.8)" />
<ellipse class="p" cx="590" cy="287.5" rx="1.4" ry="1.8" transform="rotate(20 590 287.5)" style="stroke-width:.8"/>
<ellipse class="p" cx="575.6" cy="295.8" rx="1.3" ry="1.7" transform="rotate(20 575.6 295.8)" style="stroke-width:.8"/>
<ellipse class="k" cx="581" cy="298.3" rx="1.6" ry="0.7" transform="rotate(-25 581 298.3)" />
<path class="n" d="M563 297 L565.5 301 L568 298.5" />
<path class="p" d="M602.4 284.5 A2.6 2.6 0 0 1 607.6 284.5 L607.6 305.5 A2.6 2.6 0 0 1 602.4 305.5Z" />
<line class="t" x1="604" y1="284" x2="604" y2="303" />
<ellipse class="n" cx="605" cy="305.6" rx="1.6" ry="1.6" />
<g transform="translate(621 314.5) rotate(25)">
<path class="p" d="M-12 -1.9 L-3 -1.9 L-3 1.9 L-12 1.9Z" />
<line class="n" x1="-11" y1="-1.9" x2="-10.2" y2="1.9" style="stroke-width:1"/>
<line class="n" x1="-9.4" y1="-1.9" x2="-8.6" y2="1.9" style="stroke-width:1"/>
<line class="n" x1="-7.8" y1="-1.9" x2="-7" y2="1.9" style="stroke-width:1"/>
<line class="n" x1="-6.2" y1="-1.9" x2="-5.4" y2="1.9" style="stroke-width:1"/>
<line class="n" x1="-4.6" y1="-1.9" x2="-3.8" y2="1.9" style="stroke-width:1"/>
<ellipse class="p" cx="-2.6" cy="0" rx="1.6" ry="4.6" />
<path class="p" d="M-1.5 -3.8 L2.2 -3.8 L2.2 3.8 L-1.5 3.8Z" />
<ellipse class="p" cx="-1.5" cy="0" rx="1.5" ry="3.8" />
<ellipse class="p" cx="2.2" cy="0" rx="1.6" ry="3.8" />
<ellipse class="t" cx="2.4" cy="0" rx="0.8" ry="2" />
<line class="t" x1="-1.5" y1="-1.3" x2="2.2" y2="-1.3" />
<line class="t" x1="-1.5" y1="1.5" x2="2.2" y2="1.5" />
</g>
</g>
<!-- parts/p_fly.svg -->
<g id="fly">
<path class="p" d="M285.3 554.7 L297.3 550.8 L297.6 554.6 L287.9 551.8Z" />
<path class="n" d="M286.3 556.3 L296.8 552.4" style="stroke-width:.9"/>
<path class="p" d="M290.2 550.3 L302.2 546.4 L302.5 550.2 L293.8 549.3Z" />
<path class="n" d="M291.2 551.9 L301.7 548" style="stroke-width:.9"/>
<path class="p" d="M296.7 549.2 L308.7 545.3 L309 549.1 L300.9 550.2Z" />
<path class="n" d="M297.7 550.8 L308.2 546.9" style="stroke-width:.9"/>
<path class="p" d="M304.1 551.5 L318.6 546.7 L318.9 550.5 L308.6 554.3Z" />
<path class="n" d="M305.1 553.1 L318.1 548.3" style="stroke-width:.9"/>
<path class="p" d="M311.7 557 L326.2 552.2 L326.5 556 L315.9 561.3Z" />
<path class="n" d="M312.7 558.6 L325.7 553.8" style="stroke-width:.9"/>
<path class="p" d="M318.6 565 L333.1 560.2 L333.4 564 L322 570.4Z" />
<path class="n" d="M319.6 566.6 L332.6 561.8" style="stroke-width:.9"/>
<path class="p" d="M324.1 574.6 L338.6 569.8 L338.9 573.6 L326.4 580.6Z" />
<path class="n" d="M325.1 576.2 L338.1 571.4" style="stroke-width:.9"/>
<path class="p" d="M327.6 584.9 L342.1 580.2 L342.4 584 L328.5 590.7Z" />
<path class="n" d="M328.6 586.5 L341.6 581.8" style="stroke-width:.9"/>
<path class="p" d="M328.7 594.7 L343.2 590 L343.5 593.8 L328.1 599.8Z" />
<path class="n" d="M329.7 596.3 L342.7 591.6" style="stroke-width:.9"/>
<path class="p" d="M327.2 603 L341.7 598.2 L342 602 L325.2 606.7Z" />
<path class="n" d="M328.2 604.6 L341.2 599.8" style="stroke-width:.9"/>
<ellipse class="p" cx="306.7" cy="579.9" rx="19.3" ry="33.8" transform="rotate(-27.6 306.7 579.9)" />
<ellipse class="p" cx="303.5" cy="580.9" rx="19.3" ry="33.8" transform="rotate(-27.6 303.5 580.9)" style="stroke-width:2"/>
<ellipse class="n" cx="304.3" cy="580.9" rx="17" ry="31.1" transform="rotate(-27.6 304.3 580.9)" style="stroke-width:1"/>
<path class="n" d="M297.1 549 C297.7 549.2 299.6 549.4 300.9 549.8 C302.2 550.2 303.6 550.8 304.9 551.5 C306.3 552.3 307.6 553.1 309 554.1 C310.3 555.1 311.6 556.3 312.9 557.5 C314.2 558.7 315.4 560.1 316.6 561.6 C317.8 563 319 564.6 320 566.2 C321.1 567.8 322.1 569.5 323 571.3 C323.9 573 324.7 574.8 325.5 576.6 C326.2 578.4 326.8 580.2 327.3 582 C327.8 583.8 328.2 585.7 328.5 587.4 C328.8 589.2 329 590.9 329.1 592.6 C329.1 594.2 329 595.9 328.9 597.4 C328.7 598.9 328.4 600.3 328 601.6 C327.6 602.9 326.7 604.6 326.4 605.2" style="stroke-width:1.6;stroke-dasharray:.8 1"/>
<ellipse class="n" cx="306" cy="581.9" rx="13.3" ry="26.2" transform="rotate(-27.6 306 581.9)" style="stroke-width:1.1"/>
<path class="p" d="M293 574 C293.3 569.7 294 571.3 298 571 C302 570.7 301.3 570 305 573 C308.7 576 307 575 309 580 C311 585 311.3 584 311 588 C310.7 592 311 591.3 308 592 C305 592.7 305.7 592.7 302 590 C298.3 587.3 300 589.3 297 584 C294 578.7 292.7 578.3 293 574Z" style="stroke-width:1.5"/>
<path class="n" d="M300 575.5 C301.7 576 302.3 574.2 305 577 C307.7 579.8 307.2 580 308 584 C308.8 588 307.7 587.3 307.5 589" style="stroke-width:1.2"/>
<path class="k" d="M303 577 C304.3 575 305.3 574.3 310 576 C314.7 577.7 314.3 577.3 317 582 C319.7 586.7 319.3 585.7 318 590 C316.7 594.3 316.3 595 313 595 C309.7 595 310.3 594.3 308 590 C305.7 585.7 307.7 586.3 306 582 C304.3 577.7 301.7 579 303 577Z" style="fill:#3a3a3a;stroke-width:.8"/>
<path class="w" d="M308 579 L315 588" />
<path class="w" d="M311 578 L317 586" />
<path class="w" d="M306.5 584 L312 593" />
<path class="p" d="M283.5 575 C283.7 570.7 283.8 571.8 287 570.5 C290.2 569.2 290.3 568.8 293 571 C295.7 573.2 295.2 573 295 577 C294.8 581 295.3 580.8 292.5 583 C289.7 585.2 289.5 586.2 286.5 583.5 C283.5 580.8 283.3 579.3 283.5 575Z" style="stroke-width:1.3"/>
<ellipse class="p" cx="288.5" cy="577.4" rx="3.5" ry="4.2" transform="rotate(-25 288.5 577.4)" style="stroke-width:1.5"/>
<ellipse class="n" cx="288.5" cy="577.4" rx="1.7" ry="2.2" transform="rotate(-25 288.5 577.4)" style="stroke-width:.9"/>
<path class="p" d="M307 588 C307.3 584.2 307.7 585.5 311 585 C314.3 584.5 314.3 584.2 317 586.5 C319.7 588.8 319.3 588.5 319 592 C318.7 595.5 319 595.5 316 597 C313 598.5 313 599.5 310 596.5 C307 593.5 306.7 591.8 307 588Z" style="stroke-width:1.3"/>
<ellipse class="p" cx="313.3" cy="590.8" rx="3.2" ry="3.8" transform="rotate(-25 313.3 590.8)" style="stroke-width:1.5"/>
<ellipse class="n" cx="313.3" cy="590.8" rx="1.5" ry="2" transform="rotate(-25 313.3 590.8)" style="stroke-width:.9"/>
<path class="p" d="M300.5 566.5 L303 565 L308 570 L305.5 572Z" style="stroke-width:1.5"/>
<path class="p" d="M299.5 592.5 L302 591 L307 596.5 L304.5 598.5Z" style="stroke-width:1.5"/>
<ellipse class="p" cx="299.5" cy="556.5" rx="1.1" ry="1.4" transform="rotate(-25 299.5 556.5)" style="stroke-width:.8"/>
<ellipse class="p" cx="308.5" cy="562" rx="1.1" ry="1.4" transform="rotate(-25 308.5 562)" style="stroke-width:.8"/>
<ellipse class="p" cx="313" cy="568" rx="1.1" ry="1.4" transform="rotate(-25 313 568)" style="stroke-width:.8"/>
<ellipse class="p" cx="299" cy="601" rx="1.1" ry="1.4" transform="rotate(-25 299 601)" style="stroke-width:.8"/>
<ellipse class="p" cx="309" cy="606.5" rx="1.1" ry="1.4" transform="rotate(-25 309 606.5)" style="stroke-width:.8"/>
<path class="t" d="M293 553 L299 571" />
<path class="n" d="M316 597 L312 610" />
<path class="n" d="M319 592 L325 589" />
<path class="t" d="M296 587 L292 596" />
<ellipse class="p" cx="355.5" cy="554.2" rx="7.8" ry="9.7" transform="rotate(-18 355.5 554.2)" />
<ellipse class="p" cx="352" cy="554.8" rx="7.8" ry="9.7" transform="rotate(-18 352 554.8)" />
<ellipse class="p" cx="352" cy="554.8" rx="4.4" ry="5.6" transform="rotate(-18 352 554.8)" style="stroke-width:1"/>
<ellipse class="p" cx="352" cy="554.8" rx="3" ry="4" transform="rotate(-18 352 554.8)" style="stroke-width:1.5"/>
<ellipse class="t" cx="352.5" cy="554.8" rx="1.5" ry="2.2" transform="rotate(-18 352.5 554.8)" />
<path class="p" d="M263 601 C263.8 598.3 263.2 599.1 265.5 598 C267.8 596.9 267.3 597 270 597.8 C272.7 598.6 272.3 598.1 273.5 600.5 C274.7 602.9 274.3 602.5 273.5 605 C272.7 607.5 273.5 606.9 271 608 C268.5 609.1 268.7 609 266 608.3 C263.3 607.6 264 608.4 263 606 C262 603.6 262.2 603.7 263 601Z" />
<ellipse class="p" cx="266.6" cy="603.5" rx="3.6" ry="4.4" transform="rotate(-10 266.6 603.5)" style="stroke-width:1.3"/>
<ellipse class="k" cx="266.4" cy="603.8" rx="2" ry="2.6" transform="rotate(-10 266.4 603.8)" style="fill:#555"/>
<path class="t" d="M270 597.8 L269.5 600" />
<path class="t" d="M273.5 605 L270.5 605.5" />
<ellipse class="p" cx="263.6" cy="619.6" rx="5.4" ry="6.6" transform="rotate(-25 263.6 619.6)" />
<ellipse class="p" cx="262.6" cy="619.9" rx="5.4" ry="6.6" transform="rotate(-25 262.6 619.9)" />
<ellipse class="p" cx="262.9" cy="620" rx="1.6" ry="2" transform="rotate(-25 262.9 620)" style="stroke-width:1.4"/>
<ellipse class="p" cx="233.8" cy="623.9" rx="17" ry="24.4" transform="rotate(-24 233.8 623.9)" />
<ellipse class="p" cx="231.6" cy="624.7" rx="17" ry="24.4" transform="rotate(-24 231.6 624.7)" />
<path class="p" d="M222 602.5 L224.1 601.5 L226.4 600.9 L228.9 600.8 L231.4 601.1 L234 601.9 L236.5 603.1 L239 604.7 L241.4 606.7 L243.6 609 L245.6 611.7 L247.4 614.5 L248.9 617.6 L250.1 620.8 L243.9 622 L242.9 619.5 L241.7 617.2 L240.3 615 L238.8 613 L237.1 611.2 L235.3 609.7 L233.5 608.5 L231.6 607.6 L229.8 607 L228 606.8 L226.2 606.9 L224.6 607.4 L223.1 608.2Z" style="fill:#cfcfcf"/>
<path class="n" d="M242.1 645 L240.2 645.9 L238 646.5 L235.7 646.6 L233.4 646.2 L231 645.5 L228.6 644.4 L226.3 642.8 L224.1 640.9 L222 638.8 L220.2 636.3 L218.5 633.6 L217.1 630.7 L216 627.7 L215.2 624.7 L219.5 624.9 L220.3 627.3 L221.2 629.7 L222.4 631.9 L223.7 634.1 L225.2 636 L226.9 637.8 L228.6 639.3 L230.4 640.5 L232.2 641.3 L233.9 641.9 L235.7 642.1 L237.3 642 L238.9 641.6 L240.3 640.8Z" style="stroke-width:1"/>
<path class="t" d="M240 643.5 C239.7 643.6 238.8 644 238.2 644.1 C237.5 644.2 236.9 644.3 236.2 644.3 C235.6 644.3 234.9 644.3 234.2 644.1 C233.5 644 232.8 643.8 232.1 643.6 C231.4 643.3 230.7 643 230 642.7 C229.3 642.3 228.6 641.9 228 641.4 C227.3 640.9 226.6 640.4 226 639.8 C225.3 639.2 224.7 638.6 224.1 637.9 C223.5 637.2 222.9 636.5 222.4 635.8 C221.8 635 221.3 634.2 220.8 633.4 C220.3 632.6 219.9 631.7 219.5 630.9 C219.1 630 218.7 629.1 218.4 628.2 C218 627.3 217.7 626 217.5 625.5" />
<path class="p" d="M214 616 C214.7 612.8 214.2 613.5 216.5 612.5 C218.8 611.5 218.7 611.3 221 613 C223.3 614.7 223 614.3 223.5 617.5 C224 620.7 224.3 620.2 222.5 622.5 C220.7 624.8 220.7 624.7 218 624.5 C215.3 624.3 215.8 624.8 214.5 622 C213.2 619.2 213.3 619.2 214 616Z" />
<ellipse class="p" cx="218" cy="619.3" rx="2.9" ry="3.5" transform="rotate(-20 218 619.3)" style="stroke-width:1.3"/>
<path class="p" d="M236 629 C236.8 625.8 236.5 626.3 239 625.5 C241.5 624.7 241.3 624.7 243.5 626.5 C245.7 628.3 245.3 627.8 245.5 631 C245.7 634.2 245.8 633.8 244 636 C242.2 638.2 242.5 637.8 240 637.5 C237.5 637.2 237.8 637.8 236.5 635 C235.2 632.2 235.2 632.2 236 629Z" />
<ellipse class="p" cx="240.5" cy="631.5" rx="2.9" ry="3.5" transform="rotate(-20 240.5 631.5)" style="stroke-width:1.3"/>
<path class="n" d="M224 613 C225 614.7 226.3 614.3 227 618 C227.7 621.7 225.7 620.3 226 624 C226.3 627.7 228.3 626 228 629 C227.7 632 226 631.7 225 633" />
<path class="n" d="M223.5 614.5 C223.8 616.3 224.7 616.2 224.5 620 C224.3 623.8 223.5 624 223 626" />
<path class="n" d="M233.5 622 L237 624.5" style="stroke-width:2.6"/>
<path class="n" d="M221.5 625.5 L225.5 628" style="stroke-width:2.6"/>
<path class="n" d="M229 637.5 L232 639.5" style="stroke-width:2.2"/>
<path class="n" d="M243 622 L247 620.5 L248.5 626" />
<path class="n" d="M241 641 L246 638.5" />
<path class="n" d="M215.5 627 L218 629" />
<path class="t" d="M208.8 632.5 L208.8 628.5 Q209 627.2 210 628" style="stroke-width:.9"/>
<path class="p" d="M205.5 633 L212 633 L212 642 L205.5 642Z" style="stroke:none"/>
<line class="n" x1="205.3" y1="633.6" x2="212.3" y2="634.4" style="stroke-width:1.3"/>
<line class="n" x1="205.3" y1="635.2" x2="212.3" y2="636" style="stroke-width:1.3"/>
<line class="n" x1="205.3" y1="636.8" x2="212.3" y2="637.6" style="stroke-width:1.3"/>
<line class="n" x1="205.3" y1="638.4" x2="212.3" y2="639.2" style="stroke-width:1.3"/>
<line class="n" x1="205.3" y1="640" x2="212.3" y2="640.8" style="stroke-width:1.3"/>
<line class="n" x1="205.3" y1="641.6" x2="212.3" y2="642.4" style="stroke-width:1.3"/>
<line class="t" x1="205.4" y1="633" x2="205.4" y2="642.5" />
<line class="t" x1="212.2" y1="633" x2="212.2" y2="642.5" />
<path class="t" d="M209 642.5 L209 646 Q208.5 647.8 206.8 646.8" style="stroke-width:.9"/>
<ellipse class="p" cx="199.3" cy="656.6" rx="4.2" ry="5.8" transform="rotate(-22 199.3 656.6)" />
<ellipse class="p" cx="199.5" cy="656.7" rx="2.2" ry="3.4" transform="rotate(-22 199.5 656.7)" style="stroke-width:1"/>
<g transform="translate(178 668) rotate(-25.5)">
<path class="p" d="M2 -1.9 L14.5 -1.9 L14.5 1.9 L2 1.9Z" />
<line class="n" x1="9.3" y1="-1.9" x2="9.9" y2="1.9" style="stroke-width:1"/>
<line class="n" x1="10.8" y1="-1.9" x2="11.4" y2="1.9" style="stroke-width:1"/>
<line class="n" x1="12.3" y1="-1.9" x2="12.9" y2="1.9" style="stroke-width:1"/>
<line class="n" x1="13.6" y1="-1.9" x2="14.2" y2="1.9" style="stroke-width:1"/>
<path class="p" d="M2 -2.8 L7.5 -2.8 L7.5 2.8 L2 2.8Z" />
<ellipse class="p" cx="1.8" cy="0" rx="2.9" ry="5.8" />
<ellipse class="p" cx="-0.6" cy="0" rx="2.9" ry="5.8" />
<ellipse class="t" cx="-0.8" cy="0" rx="1.6" ry="3.4" />
</g>
</g>
<!-- parts/p_housing.svg -->
<g id="housing">
<path class="p" d="M144.5 664 C146.3 663.8 144.8 660.3 150 663.5 C155.2 666.7 154.3 666.7 160 673.5 C165.7 680.3 162.7 676.5 167 684 C171.3 691.5 170.8 689.7 173 696 C175.2 702.3 175.5 697.5 173.5 703 C171.5 708.5 172.7 706.5 167 712.5 C161.3 718.5 162.8 717.8 156.5 721 C150.2 724.2 150.8 721.7 148 722" />
<path class="t" d="M146.5 666 C150 669 151.2 668 157 675 C162.8 682 160.2 679 164 687 C167.8 695 167.8 692 168.5 699 C169.2 706 166.8 705 166 708" />
<line class="t" x1="150" y1="665" x2="151.6" y2="664" />
<line class="t" x1="152.1" y1="667.1" x2="153.7" y2="666.1" />
<line class="t" x1="154.2" y1="669.3" x2="155.8" y2="668.3" />
<line class="t" x1="156.3" y1="671.5" x2="157.9" y2="670.5" />
<line class="t" x1="158.4" y1="673.6" x2="160" y2="672.6" />
<line class="t" x1="160.5" y1="675.8" x2="162.1" y2="674.8" />
<line class="t" x1="162.6" y1="677.9" x2="164.2" y2="676.9" />
<line class="t" x1="164.7" y1="680" x2="166.3" y2="679" />
<path class="n" d="M170 690 C170.8 693.3 172.8 694 172.5 700 C172.2 706 172.8 702.7 169 708 C165.2 713.3 163.7 713.3 161 716" />
<path class="p" d="M167 680.5 L176 684 A3.3 3.8 0 0 1 176 691.5 L168.5 689Z" />
<ellipse class="p" cx="176.5" cy="687.8" rx="2.8" ry="3.7" />
<ellipse class="n" cx="172.5" cy="688.5" rx="1.6" ry="2.2" style="stroke-width:1.6"/>
<path class="n" d="M171 690 L170 700" style="stroke-width:1.6"/>
<path class="p" d="M153 722.5 C153.7 723.8 153.2 724.5 155 726.5 C156.8 728.5 156.2 728.7 158.5 728.5 C160.8 728.3 160 728.5 162 726 C164 723.5 164.2 723.7 164.5 721 C164.8 718.3 163.5 719 163 718" />
<path class="n" d="M160 720 L159.5 726" style="stroke-width:1.5"/>
<path class="n" d="M162.5 719 L162 724.5" />
<ellipse class="n" cx="157" cy="725.5" rx="1.4" ry="1.4" />
<path class="p" d="M103.1 653.6 L107.3 640 L109 638.6 L110.3 639.5 L111.2 647.5 L118 650 L140.8 665 L142.5 666.8Z" />
<path class="t" d="M108 641 L109.5 649 L117 652" />
<path class="n" d="M113 648.5 L140.5 666" style="stroke-width:2.2;stroke-dasharray:1 .9"/>
<path class="n" d="M110.5 639.5 L116 646.5" style="stroke-width:1.5"/>
<path class="p" d="M142.5 666.8 L146 663.3 L154 718 L150.4 718.4Z" />
<path class="t" d="M143.5 668 L147.5 700" />
<path class="p" d="M103.1 653.6 L100.6 679 L101.4 695.6 Q102 698 104 699 L139 721 Q146 722 150.4 718.4 L142.5 666.8 Q128 657 103.1 653.6Z" />
<path class="t" d="M104.5 655.5 L102.3 679 L103 694.5" />
<ellipse class="p" cx="122.8" cy="688.8" rx="19.6" ry="30.5" transform="rotate(-19 122.8 688.8)" style="stroke-width:1.3"/>
<ellipse class="n" cx="124.5" cy="688.8" rx="17.8" ry="28.6" transform="rotate(-19 124.5 688.8)" style="stroke-width:1"/>
<ellipse class="n" cx="126.5" cy="688.5" rx="15.6" ry="26.4" transform="rotate(-19 126.5 688.5)" style="stroke-width:.8"/>
<path class="n" d="M107.5 668 Q104.5 685 113 701 Q121 713 136 717.5" style="stroke-width:1"/>
<path class="t" d="M110.5 667 Q108 684 116 698.5 Q123 709 135.5 713.5" />
<path class="t" d="M108.5 690.5 L113 688.5 L113.8 692 L110 694.5Z" />
<path class="t" d="M120 703.5 L126.5 700.5" />
<path class="t" d="M138.5 668 Q144.5 690 146.5 716" />
<path class="n" d="M143 705 L149 717" />
<ellipse class="p" cx="106" cy="658" rx="1.5" ry="1.8" transform="rotate(-15 106 658)" style="stroke-width:1"/>
<ellipse class="p" cx="139.9" cy="677.3" rx="1.5" ry="1.8" transform="rotate(-15 139.9 677.3)" style="stroke-width:1"/>
<ellipse class="p" cx="106" cy="696.5" rx="1.5" ry="1.8" transform="rotate(-15 106 696.5)" style="stroke-width:1"/>
<ellipse class="p" cx="139.5" cy="715.8" rx="1.5" ry="1.8" transform="rotate(-15 139.5 715.8)" style="stroke-width:1"/>
<g transform="translate(168 742) rotate(-27)">
<path class="p" d="M2 -1.8 L12 -1.8 L12 1.8 L2 1.8 Z" />
<ellipse class="p" cx="12" cy="0" rx="0.8" ry="1.8" style="stroke-width:.9"/>
<line class="n" x1="3.2" y1="-1.8" x2="3.9" y2="1.8" style="stroke-width:1"/>
<line class="n" x1="4.9" y1="-1.8" x2="5.6" y2="1.8" style="stroke-width:1"/>
<line class="n" x1="6.6" y1="-1.8" x2="7.3" y2="1.8" style="stroke-width:1"/>
<line class="n" x1="8.3" y1="-1.8" x2="9" y2="1.8" style="stroke-width:1"/>
<line class="n" x1="10" y1="-1.8" x2="10.7" y2="1.8" style="stroke-width:1"/>
<ellipse class="p" cx="2.3" cy="0" rx="1.7" ry="4.8" />
<path class="p" d="M-2 -3.9 L2 -3.9 L2 3.9 L-2 3.9 Z" style="stroke:none"/>
<line class="n" x1="-2" y1="-3.9" x2="2" y2="-3.9" />
<line class="n" x1="-2" y1="3.9" x2="2" y2="3.9" />
<ellipse class="n" cx="2" cy="0" rx="1.5" ry="3.9" />
<ellipse class="p" cx="-2" cy="0" rx="1.6" ry="3.9" />
<ellipse class="t" cx="-2.2" cy="0" rx="0.9" ry="2.1" />
<line class="t" x1="-2" y1="-1.6" x2="2" y2="-1.6" />
<line class="t" x1="-2" y1="1.8" x2="2" y2="1.8" />
</g>
</g>
<!-- parts/p_muffler.svg -->
<g id="muffler">
<g transform="translate(240.5 98.6) rotate(29)">
<path class="p" d="M2.2 -1.6 L35.2 -1.6 L35.2 1.6 L2.2 1.6 Z" />
<ellipse class="p" cx="35.2" cy="0" rx="0.8" ry="1.6" style="stroke-width:.9"/>
<line class="n" x1="21.6" y1="-1.6" x2="22.3" y2="1.6" style="stroke-width:1"/>
<line class="n" x1="23.3" y1="-1.6" x2="24" y2="1.6" style="stroke-width:1"/>
<line class="n" x1="25" y1="-1.6" x2="25.7" y2="1.6" style="stroke-width:1"/>
<line class="n" x1="26.7" y1="-1.6" x2="27.4" y2="1.6" style="stroke-width:1"/>
<line class="n" x1="28.4" y1="-1.6" x2="29.1" y2="1.6" style="stroke-width:1"/>
<line class="n" x1="30.1" y1="-1.6" x2="30.8" y2="1.6" style="stroke-width:1"/>
<line class="n" x1="31.8" y1="-1.6" x2="32.5" y2="1.6" style="stroke-width:1"/>
<line class="n" x1="33.5" y1="-1.6" x2="34.2" y2="1.6" style="stroke-width:1"/>
<ellipse class="p" cx="2.5" cy="0" rx="1.7" ry="4.7" />
<path class="p" d="M-2.2 -3.8 L2.2 -3.8 L2.2 3.8 L-2.2 3.8 Z" style="stroke:none"/>
<line class="n" x1="-2.2" y1="-3.8" x2="2.2" y2="-3.8" />
<line class="n" x1="-2.2" y1="3.8" x2="2.2" y2="3.8" />
<ellipse class="n" cx="2.2" cy="0" rx="1.5" ry="3.8" />
<ellipse class="p" cx="-2.2" cy="0" rx="1.6" ry="3.8" />
<ellipse class="t" cx="-2.5" cy="0" rx="0.9" ry="2.1" />
<line class="t" x1="-2.2" y1="-1.5" x2="2.2" y2="-1.5" />
<line class="t" x1="-2.2" y1="1.7" x2="2.2" y2="1.7" />
</g>
<g transform="translate(254.5 159.5) rotate(24)">
<path class="p" d="M2.1 -1.9 L11.6 -1.9 L11.6 1.9 L2.1 1.9 Z" />
<ellipse class="p" cx="11.6" cy="0" rx="0.8" ry="1.9" style="stroke-width:.9"/>
<line class="n" x1="3.3" y1="-1.9" x2="4" y2="1.9" style="stroke-width:1"/>
<line class="n" x1="5" y1="-1.9" x2="5.7" y2="1.9" style="stroke-width:1"/>
<line class="n" x1="6.7" y1="-1.9" x2="7.4" y2="1.9" style="stroke-width:1"/>
<line class="n" x1="8.4" y1="-1.9" x2="9.1" y2="1.9" style="stroke-width:1"/>
<line class="n" x1="10.1" y1="-1.9" x2="10.8" y2="1.9" style="stroke-width:1"/>
<ellipse class="p" cx="2.4" cy="0" rx="1.7" ry="5.1" />
<path class="p" d="M-2.1 -4.2 L2.1 -4.2 L2.1 4.2 L-2.1 4.2 Z" style="stroke:none"/>
<line class="n" x1="-2.1" y1="-4.2" x2="2.1" y2="-4.2" />
<line class="n" x1="-2.1" y1="4.2" x2="2.1" y2="4.2" />
<ellipse class="n" cx="2.1" cy="0" rx="1.5" ry="4.2" />
<ellipse class="p" cx="-2.1" cy="0" rx="1.6" ry="4.2" />
<ellipse class="t" cx="-2.3" cy="0" rx="0.9" ry="2.3" />
<line class="t" x1="-2.1" y1="-1.7" x2="2.1" y2="-1.7" />
<line class="t" x1="-2.1" y1="1.9" x2="2.1" y2="1.9" />
</g>
<path class="p" d="M289.5 121.5 L286.3 125 L285.5 135.5 L282 137.3 L281.8 162.5 L284 166 L290 170.5 L296 173 L296 122Z" />
<path class="t" d="M284 138 C284.5 138.7 285.5 138.7 285.5 140 C285.5 141.3 284.5 141.3 284 142" />
<path class="p" d="M290 122 L318.5 104.8 L323 103.6 L326.5 105.5 L332.5 113.5 L335 122 L334 150 L332 154 L314 168.5 L311.5 170.5 L296 171 L292 170Z" />
<path class="n" d="M319.5 104.5 C314.7 107.2 313.5 107.7 305 112.5 C296.5 117.3 298.6 115.7 294 119 C289.4 122.3 292.2 115.5 291.3 122.5 C290.4 129.5 290.9 124.2 291.2 140 C291.5 155.8 291.9 160 292.3 170" style="stroke-width:2.6"/>
<path class="n" d="M296 121.5 C304.3 116.8 311.3 112.2 321 107.5 C330.7 102.8 322.8 106.5 325 107.3 C327.2 108.1 326.7 109.1 327.5 110" style="stroke-width:1"/>
<path class="n" d="M296 121.5 C298 121.8 298.5 121.3 302 122.5 C305.5 123.7 304.3 122.8 306.5 125 C308.7 127.2 307.8 127.7 308.5 129" />
<path class="n" d="M308 126.5 L332.5 113.8" />
<path class="n" d="M308.5 129 L308.5 150" />
<path class="t" d="M296 121.5 L296 155" />
<path class="t" d="M302 123 L302 150.5" />
<path class="n" d="M309.5 133 L311 130.8 L332 120.2 L333.8 122 L334.2 129.5 L332.5 132.3 L312.5 146 L310 145Z" />
<line class="n" x1="311.5" y1="130.9" x2="311.9" y2="134.1" style="stroke-width:1.1"/>
<line class="n" x1="313.1" y1="130.1" x2="313.4" y2="133.3" style="stroke-width:1.1"/>
<line class="n" x1="314.6" y1="129.3" x2="315" y2="132.5" style="stroke-width:1.1"/>
<line class="n" x1="316.1" y1="128.5" x2="316.5" y2="131.7" style="stroke-width:1.1"/>
<line class="n" x1="317.7" y1="127.7" x2="318.1" y2="130.9" style="stroke-width:1.1"/>
<line class="n" x1="319.2" y1="126.9" x2="319.6" y2="130.1" style="stroke-width:1.1"/>
<line class="n" x1="320.8" y1="126.1" x2="321.2" y2="129.3" style="stroke-width:1.1"/>
<line class="n" x1="322.4" y1="125.3" x2="322.8" y2="128.5" style="stroke-width:1.1"/>
<line class="n" x1="323.9" y1="124.5" x2="324.3" y2="127.7" style="stroke-width:1.1"/>
<line class="n" x1="325.4" y1="123.7" x2="325.8" y2="126.9" style="stroke-width:1.1"/>
<line class="n" x1="327" y1="122.9" x2="327.4" y2="126.1" style="stroke-width:1.1"/>
<line class="n" x1="328.6" y1="122.1" x2="328.9" y2="125.3" style="stroke-width:1.1"/>
<line class="n" x1="330.1" y1="121.3" x2="330.5" y2="124.5" style="stroke-width:1.1"/>
<path class="n" d="M311 135.5 L332.5 124.3" />
<path class="k" d="M315.2 140.5 L318 135.8 L325.5 132 L327.8 134 L325 139 L318 142.8Z" style="fill:#555"/>
<path class="p" d="M318.5 139.5 L321 136.5 L324.5 135.5 L322.5 139Z" style="stroke-width:.7"/>
<ellipse class="k" cx="313.3" cy="140.8" rx="1.4" ry="1.7" />
<ellipse class="k" cx="330.2" cy="131.2" rx="1.4" ry="1.7" />
<path class="n" d="M309.3 136 L309.3 146" style="stroke-width:2;stroke:#444"/>
<path class="n" d="M308.5 150 L302 150.5 L296 155" />
<path class="t" d="M312.5 146 L333.8 131.5" />
<path class="n" d="M300.5 153.5 L317 153.5 L318.5 155 L314 168.5" />
<path class="n" d="M302 157 L314.5 157 L311 167 L306 168.5" />
<path class="n" d="M308.5 150 L310.5 153.5" />
<path class="n" d="M296 155 L300.5 153.5" />
<path class="n" d="M300.5 157 L300.5 171" />
<path class="n" d="M296 156 L299.5 158 L299.5 172 L296 175" />
<ellipse class="t" cx="297.7" cy="162" rx="0.7" ry="1" />
<ellipse class="t" cx="297.7" cy="170" rx="0.7" ry="1" />
<path class="p" d="M287.5 176 C288.5 173 287.8 173.8 291 173 C294.2 172.2 293.3 174 297 173.5 C300.7 173 301.3 170.7 302 171.5 C302.7 172.3 301.8 172.7 299 176 C296.2 179.3 297.2 179.5 293.5 181.5 C289.8 183.5 290 183.8 288 182 C286 180.2 286.5 179 287.5 176Z" />
<ellipse class="k" cx="290.5" cy="178.8" rx="3.2" ry="2.6" transform="rotate(-35 290.5 178.8)" style="fill:#444"/>
<ellipse class="n" cx="287.2" cy="171.3" rx="1.2" ry="1.2" style="stroke-width:.9"/>
<path class="p" d="M348 176 L313.5 196.3 Q312.5 198 315 200 L330 212 Q331.5 213.2 333.5 212 L342 207 Q343.5 206 345.5 206.8 L350 208.6 Q352 209 353.5 207.5 L383.5 189.5 Q385.5 185 389.7 171.5 L360 188 Z" />
<path class="n" d="M360 188.6 L388.8 173.6" style="stroke-width:1.6"/>
<path class="t" d="M354.8 205.8 L384 188" />
<path class="n" d="M335.5 199.8 L341 197" style="stroke-width:2"/>
<path class="p" d="M348.8 155.5 L383 135.5 L386 132 L389.3 131.6 L389.7 171.5 L360 188 L359.3 182.8 L351.8 187.2 Q349 188 348.8 186 Z" />
<path class="t" d="M383 135.5 L388.5 133.5" />
<path class="n" d="M360 188 L357.5 189.5 L358 192.5 L356.3 193.5 L357.8 196 L354.8 206" />
<path class="p" d="M364.5 166.5 L366 162 L373 157.8 L376.2 158.8 L375 163.5 L368 167.8Z" style="stroke-width:1"/>
<ellipse class="p" cx="377.7" cy="158.4" rx="1.1" ry="1.2" style="stroke-width:.9"/>
<ellipse class="p" cx="361.2" cy="167.8" rx="1.1" ry="1.2" style="stroke-width:.9"/>
</g>
<!-- parts/p_piston.svg -->
<g id="piston">
<ellipse class="p" cx="509" cy="358" rx="13.6" ry="7" style="stroke-width:1.2"/>
<ellipse class="p" cx="509" cy="358.4" rx="10.9" ry="5" style="stroke-width:1.1"/>
<ellipse class="p" cx="509" cy="350" rx="13.6" ry="7" style="stroke-width:1.2"/>
<ellipse class="p" cx="509" cy="350.4" rx="10.9" ry="5" style="stroke-width:1.1"/>
<path class="p" d="M496 376 L496 391 Q497 395 501 396.5 Q503.5 398 505 401 Q508 404.5 513 403.5 Q519.5 402 522 397 L522 376Z" />
<ellipse class="p" cx="509" cy="376" rx="13" ry="7.5" />
<path class="n" d="M496 379.5 A13 7.5 0 0 0 522 379.5" style="stroke-width:.9"/>
<path class="n" d="M496 381.7 A13 7.5 0 0 0 522 381.7" style="stroke-width:1.5"/>
<path class="n" d="M496 384 A13 7.5 0 0 0 522 384" style="stroke-width:1.5"/>
<path class="n" d="M496 386 A13 7.5 0 0 0 522 386" style="stroke-width:.8"/>
<ellipse class="p" cx="500" cy="390.8" rx="1.9" ry="2.2" style="stroke-width:1"/>
<ellipse class="t" cx="500.3" cy="391" rx="0.9" ry="1.1" />
<ellipse class="k" cx="508.5" cy="374.5" rx="0.6" ry="0.5" />
<path class="t" d="M502.5 371.5 L505 371.8 L503.8 373Z" />
<g transform="translate(446.6 421) rotate(-26)">
<path class="p" d="M0 -2.8 L20.5 -2.8 A1.3 2.8 0 0 1 20.5 2.8 L0 2.8Z" />
<ellipse class="p" cx="0" cy="0" rx="1.7" ry="2.8" />
<ellipse class="n" cx="0" cy="0" rx="1" ry="1.8" style="stroke-width:.9"/>
</g>
<path class="t" d="M436.5 424 A2 2.6 0 1 1 438.5 428 M440.8 424.5 Q442 427.5 440.5 430" style="stroke-width:.9"/>
<path class="t" d="M536 366.5 A2 2.6 0 1 1 538 370.5 M540.3 367 Q541.5 370 540 372.5" style="stroke-width:.9"/>
<g transform="translate(524.6 413.8) rotate(-27)">
<path class="p" d="M0 -4.6 L8.5 -4.6 A2.2 4.6 0 0 1 8.5 4.6 L0 4.6Z" />
<line class="n" x1="1.5" y1="-3.4" x2="9.5" y2="-3.4" style="stroke-width:.8"/>
<line class="n" x1="1.5" y1="-2.2" x2="9.5" y2="-2.2" style="stroke-width:.8"/>
<line class="n" x1="1.5" y1="-1.1" x2="9.5" y2="-1.1" style="stroke-width:.8"/>
<line class="n" x1="1.5" y1="0" x2="9.5" y2="0" style="stroke-width:.8"/>
<line class="n" x1="1.5" y1="1.2" x2="9.5" y2="1.2" style="stroke-width:.8"/>
<line class="n" x1="1.5" y1="2.4" x2="9.5" y2="2.4" style="stroke-width:.8"/>
<line class="n" x1="1.5" y1="3.5" x2="9.5" y2="3.5" style="stroke-width:.8"/>
<ellipse class="p" cx="0" cy="0" rx="2.3" ry="4.6" />
<ellipse class="n" cx="0" cy="0" rx="1.5" ry="3.3" style="stroke-width:.9"/>
</g>
<g transform="translate(518 457) rotate(-19)">
<path class="p" d="M0 -2.9 L12.5 -2.5 A1.2 2.5 0 0 1 12.5 2.5 L0 2.9Z" />
<ellipse class="t" cx="8.5" cy="0" rx="0.9" ry="2.6" />
</g>
<g transform="translate(501.5 468) rotate(-29.5)">
<path class="p" d="M0 -3.3 L-14 -2.9 L-14 -2.3 L-26 -2 A1.1 2 0 0 0 -26 2 L-14 2.3 L-14 2.9 L0 3.3Z" />
<ellipse class="t" cx="-14" cy="0" rx="1" ry="2.8" />
<ellipse class="t" cx="-19" cy="0" rx="0.9" ry="2.2" />
<ellipse class="t" cx="-22" cy="0" rx="0.9" ry="2.1" />
<ellipse class="t" cx="-24" cy="0" rx="0.9" ry="2.1" />
<ellipse class="p" cx="-26" cy="0" rx="1.1" ry="2" style="stroke-width:1"/>
</g>
<path class="p" d="M497.5 462 C495.2 467 496.5 464.7 498 470 C499.5 475.3 498.8 473.2 502 478 C505.2 482.8 504.5 482.2 507.5 484.5 C510.5 486.8 508.2 485.7 511 485 C513.8 484.3 512.5 484.8 516 482.5 C519.5 480.2 519 480.5 521.5 478 C524 475.5 524.3 479 523.5 475 C522.7 471 522.5 471.7 519 466 C515.5 460.3 517.7 461.7 513 458 C508.3 454.3 510.2 453.7 505 455 C499.8 456.3 499.8 457 497.5 462Z" />
<path class="n" d="M505.5 468 L511 484.5" style="stroke-width:1.6"/>
<path class="n" d="M509.5 466 L516.5 482" />
<path class="n" d="M513.5 465 L521.5 478" style="stroke-width:1.5"/>
<path class="n" d="M508 471 L505.5 474 L507 478" style="stroke-width:1.6"/>
<path class="t" d="M516 467 L520 475" />
<path class="p" d="M496.5 457 C496.8 453.5 495.8 454.8 498 452.5 C500.2 450.2 498.3 451.8 503 450 C507.7 448.2 507.3 447.7 512 447 C516.7 446.3 514.5 446.3 517 448 C519.5 449.7 518.7 448.3 519.5 452 C520.3 455.7 521 455 519.5 459 C518 463 518.8 461.3 515 464 C511.2 466.7 512.8 466.2 508 467 C503.2 467.8 504.2 467.8 500.5 466.5 C496.8 465.2 498.3 466.2 497 463 C495.7 459.8 496.2 460.5 496.5 457Z" />
<path class="n" d="M503 450 C504.3 450.8 505.2 449.8 507 452.5 C508.8 455.2 508.3 453.5 508.5 458 C508.7 462.5 507.8 463.3 507.5 466" />
<path class="n" d="M512 447 C513 448.3 513.8 447.7 515 451 C516.2 454.3 516 452.5 515.5 457 C515 461.5 514.2 462 513.5 464.5" style="stroke-width:1.6"/>
<ellipse class="p" cx="501.5" cy="459.5" rx="3.3" ry="4" />
<ellipse class="n" cx="501.8" cy="459.6" rx="1.6" ry="2.1" style="stroke-width:.9"/>
<path class="p" d="M505 427.5 L504.7 450 L510.5 451 L511.5 428Z" style="stroke-width:1.6"/>
<path class="n" d="M506.8 428 L506.5 450" style="stroke-width:1.5"/>
<path class="n" d="M509.5 428.5 L509 450" style="stroke-width:1"/>
<ellipse class="p" cx="509.8" cy="422.5" rx="5.2" ry="6.3" transform="rotate(-25 509.8 422.5)" />
<ellipse class="p" cx="508.2" cy="422.9" rx="5.2" ry="6.3" transform="rotate(-25 508.2 422.9)" style="stroke-width:1.5"/>
<ellipse class="p" cx="508.2" cy="422.9" rx="3" ry="4.1" transform="rotate(-25 508.2 422.9)" />
<path class="p" d="M485 458.3 L489.3 456.5 L490.3 459 L486 461Z" style="stroke-width:.9"/>
<path class="t" d="M485 458.3 L485.6 460.2 L486 461" />
<ellipse class="p" cx="468.7" cy="488.2" rx="8.3" ry="10.5" transform="rotate(-14 468.7 488.2)" />
<ellipse class="p" cx="466.5" cy="488.5" rx="8.3" ry="10.5" transform="rotate(-14 466.5 488.5)" />
<ellipse class="n" cx="466.5" cy="488.5" rx="6.8" ry="8.6" transform="rotate(-14 466.5 488.5)" style="stroke-width:.9"/>
<ellipse class="n" cx="466.5" cy="488.5" rx="5.8" ry="7.3" transform="rotate(-14 466.5 488.5)" style="stroke-width:1.5;stroke-dasharray:1.1 1.7"/>
<ellipse class="n" cx="466.5" cy="488.5" rx="4.6" ry="5.9" transform="rotate(-14 466.5 488.5)" style="stroke-width:.9"/>
<ellipse class="p" cx="466.5" cy="488.5" rx="3.5" ry="4.4" transform="rotate(-14 466.5 488.5)" />
<ellipse class="n" cx="467.7" cy="488.5" rx="3.2" ry="4.4" transform="rotate(-14 467.7 488.5)" style="stroke-width:.8"/>
<ellipse class="p" cx="543.4" cy="444.9" rx="8.3" ry="10.3" transform="rotate(-14 543.4 444.9)" />
<ellipse class="p" cx="541.2" cy="445.2" rx="8.3" ry="10.3" transform="rotate(-14 541.2 445.2)" />
<ellipse class="n" cx="541.2" cy="445.2" rx="6.8" ry="8.4" transform="rotate(-14 541.2 445.2)" style="stroke-width:.9"/>
<ellipse class="n" cx="541.2" cy="445.2" rx="5.8" ry="7.2" transform="rotate(-14 541.2 445.2)" style="stroke-width:1.5;stroke-dasharray:1.1 1.7"/>
<ellipse class="n" cx="541.2" cy="445.2" rx="4.6" ry="5.8" transform="rotate(-14 541.2 445.2)" style="stroke-width:.9"/>
<ellipse class="p" cx="541.2" cy="445.2" rx="3.5" ry="4.3" transform="rotate(-14 541.2 445.2)" />
<ellipse class="n" cx="542.4" cy="445.2" rx="3.2" ry="4.3" transform="rotate(-14 542.4 445.2)" style="stroke-width:.8"/>
<path class="n" d="M444.5 489.5 A7 10 -18 1 0 451.5 491.5" style="stroke-width:3;stroke-linecap:butt"/>
<path class="w" d="M444.5 489.5 A7 10 -18 1 0 451.5 491.5" style="stroke-width:1;stroke-linecap:butt"/>
<ellipse class="k" cx="444.8" cy="489.3" rx="1" ry="1" />
<ellipse class="k" cx="451.3" cy="491.3" rx="1" ry="1" />
</g>
<!-- parts/p_shroud.svg -->
<g id="shroud">
<path class="p" d="M159 262 L165.5 273.5 L183 285 L184.5 283 L180 272 L166 264Z" />
<line class="n" x1="161.5" y1="264.5" x2="164.7" y2="272.8" style="stroke-width:1.25"/>
<line class="n" x1="164.1" y1="266.1" x2="167.3" y2="274.2" style="stroke-width:1.25"/>
<line class="n" x1="166.7" y1="267.6" x2="169.9" y2="275.6" style="stroke-width:1.25"/>
<line class="n" x1="169.3" y1="269.1" x2="172.5" y2="277" style="stroke-width:1.25"/>
<line class="n" x1="171.9" y1="270.7" x2="175.1" y2="278.4" style="stroke-width:1.25"/>
<line class="n" x1="174.5" y1="272.2" x2="177.7" y2="279.8" style="stroke-width:1.25"/>
<line class="n" x1="177.1" y1="273.8" x2="180.3" y2="281.2" style="stroke-width:1.25"/>
<line class="n" x1="179.7" y1="275.4" x2="182.9" y2="282.6" style="stroke-width:1.25"/>
<path class="n" d="M165.5 273.5 L183 285 L184.5 283" style="stroke-width:1.8"/>
<path class="p" d="M224 251 C221.5 253 224.3 253.2 225.5 256 C226.7 258.8 225.3 257.8 227.5 259.3 C229.7 260.8 229.4 260.8 232 260.5 C234.6 260.2 234 260.5 235.4 258.3 C236.8 256.1 237.1 256.8 236.3 254 C235.5 251.2 237.1 251 233 250 C228.9 249 226.5 249 224 251Z" />
<path class="n" d="M226.5 251 C227.2 252.7 226.5 253.8 228.5 256 C230.5 258.2 231.2 257 232.5 257.5" />
<path class="n" d="M230.5 249 L232.5 257" />
<path class="p" d="M153.2 247 L156 243.5 L192.5 223.6 L196 222.9 L200.4 223.6 L227.5 237.3 L231 235.5 L234.3 229.4 L236.2 230.3 L234.6 244.5 L200.4 261.8 L199.5 272.3 L196 274 L192.5 267 L188 261.8 L180.3 265.3 L177 268.5 L174.5 268.8 L155 257.5Z" />
<path class="n" d="M155.5 248 L158 245 L193 225.8 L199.5 225.7 L225 238.5" />
<path class="t" d="M157.5 250.5 L194 230 L200 229 L222 240.5" />
<path class="n" d="M206.5 250.5 L227.5 237.3" />
<path class="t" d="M206.5 250.5 L231.5 238" />
<path class="n" d="M207.5 252.5 L234.5 238.5" />
<path class="n" d="M175 242 L197 230.8 L216 241 L195 253.2Z" />
<path class="n" d="M177 240 L195 252" style="stroke-width:1.6"/>
<path class="t" d="M160 254 L175 246" />
<path class="t" d="M158.5 251 L174 243" />
<path class="t" d="M200 232 L219 242" />
<path class="t" d="M203 236.5 L214 242" />
<ellipse class="k" cx="208" cy="239.5" rx="0.6" ry="0.5" />
<path class="t" d="M154 250 L155.5 256.5 L175 267.5" />
<ellipse class="t" cx="168.5" cy="262" rx="0.7" ry="0.6" />
<path class="n" d="M195 253.2 L199 252 L203 250.8 L206.5 250.5" />
<path class="n" d="M196 253.5 L192.8 265 L196 274" />
<path class="t" d="M199 252.5 L196.5 266 L199.5 272.3" />
<path class="t" d="M203.5 251.5 L200.8 262" />
<path class="t" d="M206 251 L204 260" />
<path class="t" d="M180.3 265.3 L182 268.5 L189.5 265" />
<g transform="translate(258.3 235.8) rotate(153.5)">
<path class="p" d="M2 -1.8 L11.5 -1.8 L11.5 1.8 L2 1.8 Z" />
<ellipse class="p" cx="11.5" cy="0" rx="0.8" ry="1.8" style="stroke-width:.9"/>
<line class="n" x1="3.2" y1="-1.8" x2="3.9" y2="1.8" style="stroke-width:1"/>
<line class="n" x1="4.9" y1="-1.8" x2="5.6" y2="1.8" style="stroke-width:1"/>
<line class="n" x1="6.6" y1="-1.8" x2="7.3" y2="1.8" style="stroke-width:1"/>
<line class="n" x1="8.3" y1="-1.8" x2="9" y2="1.8" style="stroke-width:1"/>
<line class="n" x1="10" y1="-1.8" x2="10.7" y2="1.8" style="stroke-width:1"/>
<ellipse class="p" cx="2.3" cy="0" rx="1.7" ry="4.9" />
<path class="p" d="M-2 -4 L2 -4 L2 4 L-2 4 Z" style="stroke:none"/>
<line class="n" x1="-2" y1="-4" x2="2" y2="-4" />
<line class="n" x1="-2" y1="4" x2="2" y2="4" />
<ellipse class="n" cx="2" cy="0" rx="1.5" ry="4" />
<ellipse class="p" cx="-2" cy="0" rx="1.6" ry="4" />
<ellipse class="t" cx="-2.2" cy="0" rx="0.9" ry="2.2" />
<line class="t" x1="-2" y1="-1.6" x2="2" y2="-1.6" />
<line class="t" x1="-2" y1="1.8" x2="2" y2="1.8" />
</g>
</g>
<!-- parts/p_wires.svg -->
<g id="wires">
<path class="n" d="M490 697 C491.3 696.9 490.7 697.1 494 696.6 C497.3 696.1 495 698.1 500 695.6 C505 693.1 501.2 694.4 509 689 C516.8 683.6 512.3 685.6 523.3 679.3 C534.3 673 535.8 673.2 542 670.2" style="stroke-width:2.6"/>
<path class="w" d="M490 697 C491.3 696.9 490.7 697.1 494 696.6 C497.3 696.1 495 698.1 500 695.6 C505 693.1 501.2 694.4 509 689 C516.8 683.6 512.3 685.6 523.3 679.3 C534.3 673 535.8 673.2 542 670.2" style="stroke-width:.9"/>
<g transform="translate(541.5 670.4) rotate(-27.5)">
<path class="k" d="M0 -1.2 L5 -2 L5 2 L0 1.2Z" style="fill:#444"/>
<path class="p" d="M5 -2.6 L20 -2.6 A1.6 2.6 0 0 1 20 2.6 L5 2.6 A1.2 2.6 0 0 1 5 -2.6Z" />
</g>
<path class="p" d="M482.8 691.3 L485 689.8 L492.5 695 L489.8 697.6 L489.8 700.5 L485 702.6 L482.8 700.3Z" />
<path class="t" d="M485 692.5 L485 702.6" />
<path class="t" d="M487 698.5 L489.8 698 L487 700.5" />
<path class="n" d="M513.5 713 C514.7 711.8 514 712.2 517 709.5 C520 706.8 518.2 708 522.5 704.8 C526.8 701.6 524 703.3 530 700 C536 696.7 529.5 701.7 540.5 695 C551.5 688.3 555.5 685 563 680" style="stroke-width:2.6"/>
<path class="w" d="M513.5 713 C514.7 711.8 514 712.2 517 709.5 C520 706.8 518.2 708 522.5 704.8 C526.8 701.6 524 703.3 530 700 C536 696.7 529.5 701.7 540.5 695 C551.5 688.3 555.5 685 563 680" style="stroke-width:.9"/>
<g transform="translate(562.5 680.3) rotate(-27)">
<path class="k" d="M0 -1.2 L5 -2 L5 2 L0 1.2Z" style="fill:#444"/>
<path class="p" d="M5 -2.6 L19 -2.6 A1.6 2.6 0 0 1 19 2.6 L5 2.6 A1.2 2.6 0 0 1 5 -2.6Z" />
</g>
<ellipse class="p" cx="506" cy="717.6" rx="5" ry="2.6" transform="rotate(-8 506 717.6)" style="stroke-width:1.3"/>
<ellipse class="p" cx="505.6" cy="717.7" rx="2.8" ry="1.2" transform="rotate(-8 505.6 717.7)" style="stroke-width:.9"/>
<path class="n" d="M510.5 716 L514 712.8" style="stroke-width:2.4"/>
</g>
<!-- leaders.svg -->
<g id="leaders">
<path class="l" d="M505 27.5 L527 27.5" />
<path class="l" d="M554 100.5 L582 100.5" />
<path class="l" d="M413.5 96.5 L466 126" />
<path class="l" d="M413.5 110.5 L462.5 138" />
<path class="l" d="M582.5 155.5 L606.5 155.5" />
<path class="l" d="M588.5 193.5 L607 193.5" />
<path class="l" d="M466 187.5 L486 187.5" />
<path class="l" d="M452 243.5 L475.5 243.5" />
<path class="l" d="M555.5 239.8 L555.5 257.8" />
<path class="l" d="M577.5 253.8 L577.5 275.8" />
<path class="l" d="M605.5 263.8 L605.5 282" />
<path class="l" d="M621.5 279.4 L621.5 310" />
<path class="l" d="M452 303.5 L473 303.5" />
<path class="l" d="M257.5 79 L257.5 104.8" />
<path class="l" d="M311.5 79 L311.5 106.3" />
<path class="l" d="M373.5 114.8 L373.5 140" />
<path class="l" d="M256.5 137.5 L256.5 154.3" />
<path class="l" d="M195.5 198 L195.5 223.3" />
<path class="l" d="M257.5 208 L257.5 232" />
<path class="l" d="M274.5 328.4 L274.5 427.4" />
<path class="l" d="M274.6 328.5 L297 328.5" />
<path class="l" d="M318 328.5 L377.5 328.5 L377.5 379.5 L360 379.5" />
<path class="l" d="M274.6 344.5 L297 344.5" />
<path class="l" d="M318 344.5 L333 344.5 L348 353" />
<path class="l" d="M274.6 360.5 L330 360.5 L339 365.6" />
<path class="l" d="M256.4 375.5 L274.6 375.5" />
<path class="l" d="M221.4 375.5 L240 375.5" />
<path class="l" d="M274.6 387.5 L286 387.5" />
<path class="l" d="M304 387.5 L324 387.5" />
<path class="l" d="M274.6 427.5 L297 427.5" />
<path class="l" d="M221.5 375.6 L221.5 517.4 L253 534" />
<path class="l" d="M206.4 418.5 L221.4 418.5" />
<path class="l" d="M267 544.4 L284 554" />
<path class="l" d="M350.5 433 L350.5 450" />
<path class="l" d="M292.5 466 L292.5 483" />
<path class="l" d="M353.5 522 L353.5 544" />
<path class="l" d="M357.5 364.5 L357.5 375" />
<path class="d" d="M496.5 45 L496.5 93" />
<path class="d" d="M516 146 L571 162" />
<path class="d" d="M488.5 197 L488.5 215" />
<path class="d" d="M533 212.8 L551.8 206" />
<path class="d" d="M590 297 L601 302.5" />
<path class="d" d="M272.8 116.8 L287.8 125" />
<path class="d" d="M266.8 165.5 L287.8 178.3" />
<path class="d" d="M319.5 144.5 L348 159.5" />
<path class="d" d="M364.5 169.3 L476 232" />
<path class="d" d="M245.9 242.5 L235.4 247.8" />
<path class="d" d="M333 436.5 L342.8 431.3" />
<path class="d" d="M305 453.6 L324 443" />
<path class="d" d="M309.8 455 L309.8 541" style="stroke-dasharray:14 3"/>
<path class="l" d="M474 343.5 L484 343.5 L496 349" />
<path class="l" d="M474 358.5 L495.6 358.5" />
<path class="l" d="M474 378.5 L496 378.5" />
<path class="l" d="M538.5 343 L538.5 365" />
<path class="l" d="M434 401 L454 412" />
<path class="l" d="M417 411.6 L436 422" />
<path class="l" d="M542.5 393 L542.5 398 L534 407" />
<path class="l" d="M487.5 440.6 L487.5 455.7" />
<path class="l" d="M444.5 470 L444.5 489.3" />
<path class="l" d="M468.5 498 L468.5 522.5" />
<path class="l" d="M507.5 484 L507.5 501.5" />
<path class="l" d="M542.5 454.6 L542.5 479.6" />
<path class="d" d="M525 376 L534 370.6" />
<path class="d" d="M467 409 L498 392.4" />
<path class="d" d="M515 419 L523 415" />
<path class="d" d="M550.8 441.6 L556 438.5" />
<path class="l" d="M591.5 449.5 L591.5 493.4 L433.5 584.4 L433.5 552.9" />
<path class="l" d="M517.5 536.6 L517.5 546.4" />
<path class="l" d="M380.5 593.5 L380.5 613" />
<path class="l" d="M620.5 369 L620.5 391.8" />
<path class="d" d="M360 549.6 L374.6 543" />
<path class="d" d="M392.5 580 L399 576.8 L379.8 565 L401.8 552" />
<path class="l" d="M267.5 572.3 L267.5 596.3" />
<path class="l" d="M268.8 624 L289.8 635.3" />
<path class="l" d="M208.5 605.3 L208.5 627" />
<path class="l" d="M220.5 568 L220.5 576" />
<path class="l" d="M208.5 592.5 L208.5 583.5 L232.5 570 L232.5 579" />
<path class="l" d="M232.5 591.8 L232.5 602.3" />
<path class="l" d="M205 658.5 L227.5 670.5" />
<path class="l" d="M188 667.6 L210.8 680.8" />
<path class="l" d="M128.5 630 L128.5 653.6" />
<path class="l" d="M167.5 748 L167.5 768" />
<path class="d" d="M337.4 563.7 L345.6 558.9" />
<path class="d" d="M362 548.5 L371.8 543" />
<path class="d" d="M274 598.8 L286.5 593.3" />
<path class="d" d="M251.5 626.3 L259 621.8" />
<path class="d" d="M268.8 615.8 L298 600" />
<path class="d" d="M204.3 653.3 L222.3 643.5" />
<path class="d" d="M179.3 735 L196.8 725.4 L154.8 700.9 L174 690.4" />
<path class="l" d="M523.5 653.8 L523.5 679.3" />
<path class="l" d="M540.5 695 L540.5 713.8" />
</g>
<!-- labels.svg -->
<g id="labels" style="opacity:0.999">
<text transform="translate(537,31.6) scale(0.95,1)">15</text>
<text transform="translate(592.2,104.7) scale(0.95,1)">14</text>
<text transform="translate(407,97.85) scale(0.95,1)">51</text>
<text transform="translate(407,111.6) scale(0.95,1)">52</text>
<text transform="translate(615.2,159.8) scale(0.95,1)">47</text>
<text transform="translate(615.2,198.1) scale(0.95,1)">46</text>
<text transform="translate(458,191.1) scale(0.95,1)">4</text>
<text transform="translate(443.75,248.1) scale(0.95,1)">2</text>
<text transform="translate(554.75,238.45) scale(0.95,1)">6</text>
<text transform="translate(577.35,251.55) scale(0.95,1)">5</text>
<text transform="translate(605,261.1) scale(0.95,1)">50</text>
<text transform="translate(620.5,276.6) scale(0.95,1)">7</text>
<text transform="translate(443.75,308.1) scale(0.95,1)">3</text>
<text transform="translate(256.5,76.1) scale(0.95,1)">11</text>
<text transform="translate(310.5,76.1) scale(0.95,1)">8</text>
<text transform="translate(373.5,112.1) scale(0.95,1)">9</text>
<text transform="translate(256.5,135.1) scale(0.95,1)">10</text>
<text transform="translate(195.5,196.3) scale(0.95,1)">12</text>
<text transform="translate(257.85,206.45) scale(0.95,1)">13</text>
<text transform="translate(307,330.85) scale(0.95,1)">40</text>
<text transform="translate(307,347.85) scale(0.95,1)">39</text>
<text transform="translate(248.5,379.35) scale(0.95,1)">38</text>
<text transform="translate(296.5,390.1) scale(0.95,1)">41</text>
<text transform="translate(198.5,422.1) scale(0.95,1)">36</text>
<text transform="translate(350.5,460.6) scale(0.95,1)">44</text>
<text transform="translate(292.5,494.35) scale(0.95,1)">45</text>
<text transform="translate(466,348.1) scale(0.95,1)">23</text>
<text transform="translate(466,362.35) scale(0.95,1)">23</text>
<text transform="translate(466,382.6) scale(0.95,1)">22</text>
<text transform="translate(538.75,340.6) scale(0.95,1)">26</text>
<text transform="translate(427,402.1) scale(0.95,1)">24</text>
<text transform="translate(409,412.1) scale(0.95,1)">26</text>
<text transform="translate(542.75,390.85) scale(0.95,1)">25</text>
<text transform="translate(621.3,366.85) scale(0.95,1)">19</text>
<text transform="translate(487.9,438) scale(0.95,1)">42</text>
<text transform="translate(444,468.1) scale(0.95,1)">20</text>
<text transform="translate(468,534.1) scale(0.95,1)">17</text>
<text transform="translate(542.9,491.1) scale(0.95,1)">17</text>
<text transform="translate(507.6,511.7) scale(0.95,1)">27</text>
<text transform="translate(518.1,556) scale(0.95,1)">16</text>
<text transform="translate(259.6,544.5) scale(0.95,1)">37</text>
<text transform="translate(353,520.7) scale(0.95,1)">18</text>
<text transform="translate(267.6,570) scale(0.95,1)">43</text>
<text transform="translate(220.3,566) scale(0.95,1)">28</text>
<text transform="translate(232.6,590.1) scale(0.95,1)">29</text>
<text transform="translate(208.6,604.1) scale(0.95,1)">30</text>
<text transform="translate(296.9,642.7) scale(0.95,1)">32</text>
<text transform="translate(234.6,678) scale(0.95,1)">33</text>
<text transform="translate(217.7,687.8) scale(0.95,1)">31</text>
<text transform="translate(128,627.1) scale(0.95,1)">34</text>
<text transform="translate(167.5,778.85) scale(0.95,1)">35</text>
<text transform="translate(380.6,623.4) scale(0.95,1)">21</text>
<text transform="translate(523.3,652.1) scale(0.95,1)">48</text>
<text transform="translate(540.45,725.1) scale(0.95,1)">49</text>
</g>

</svg>
</body></html>
